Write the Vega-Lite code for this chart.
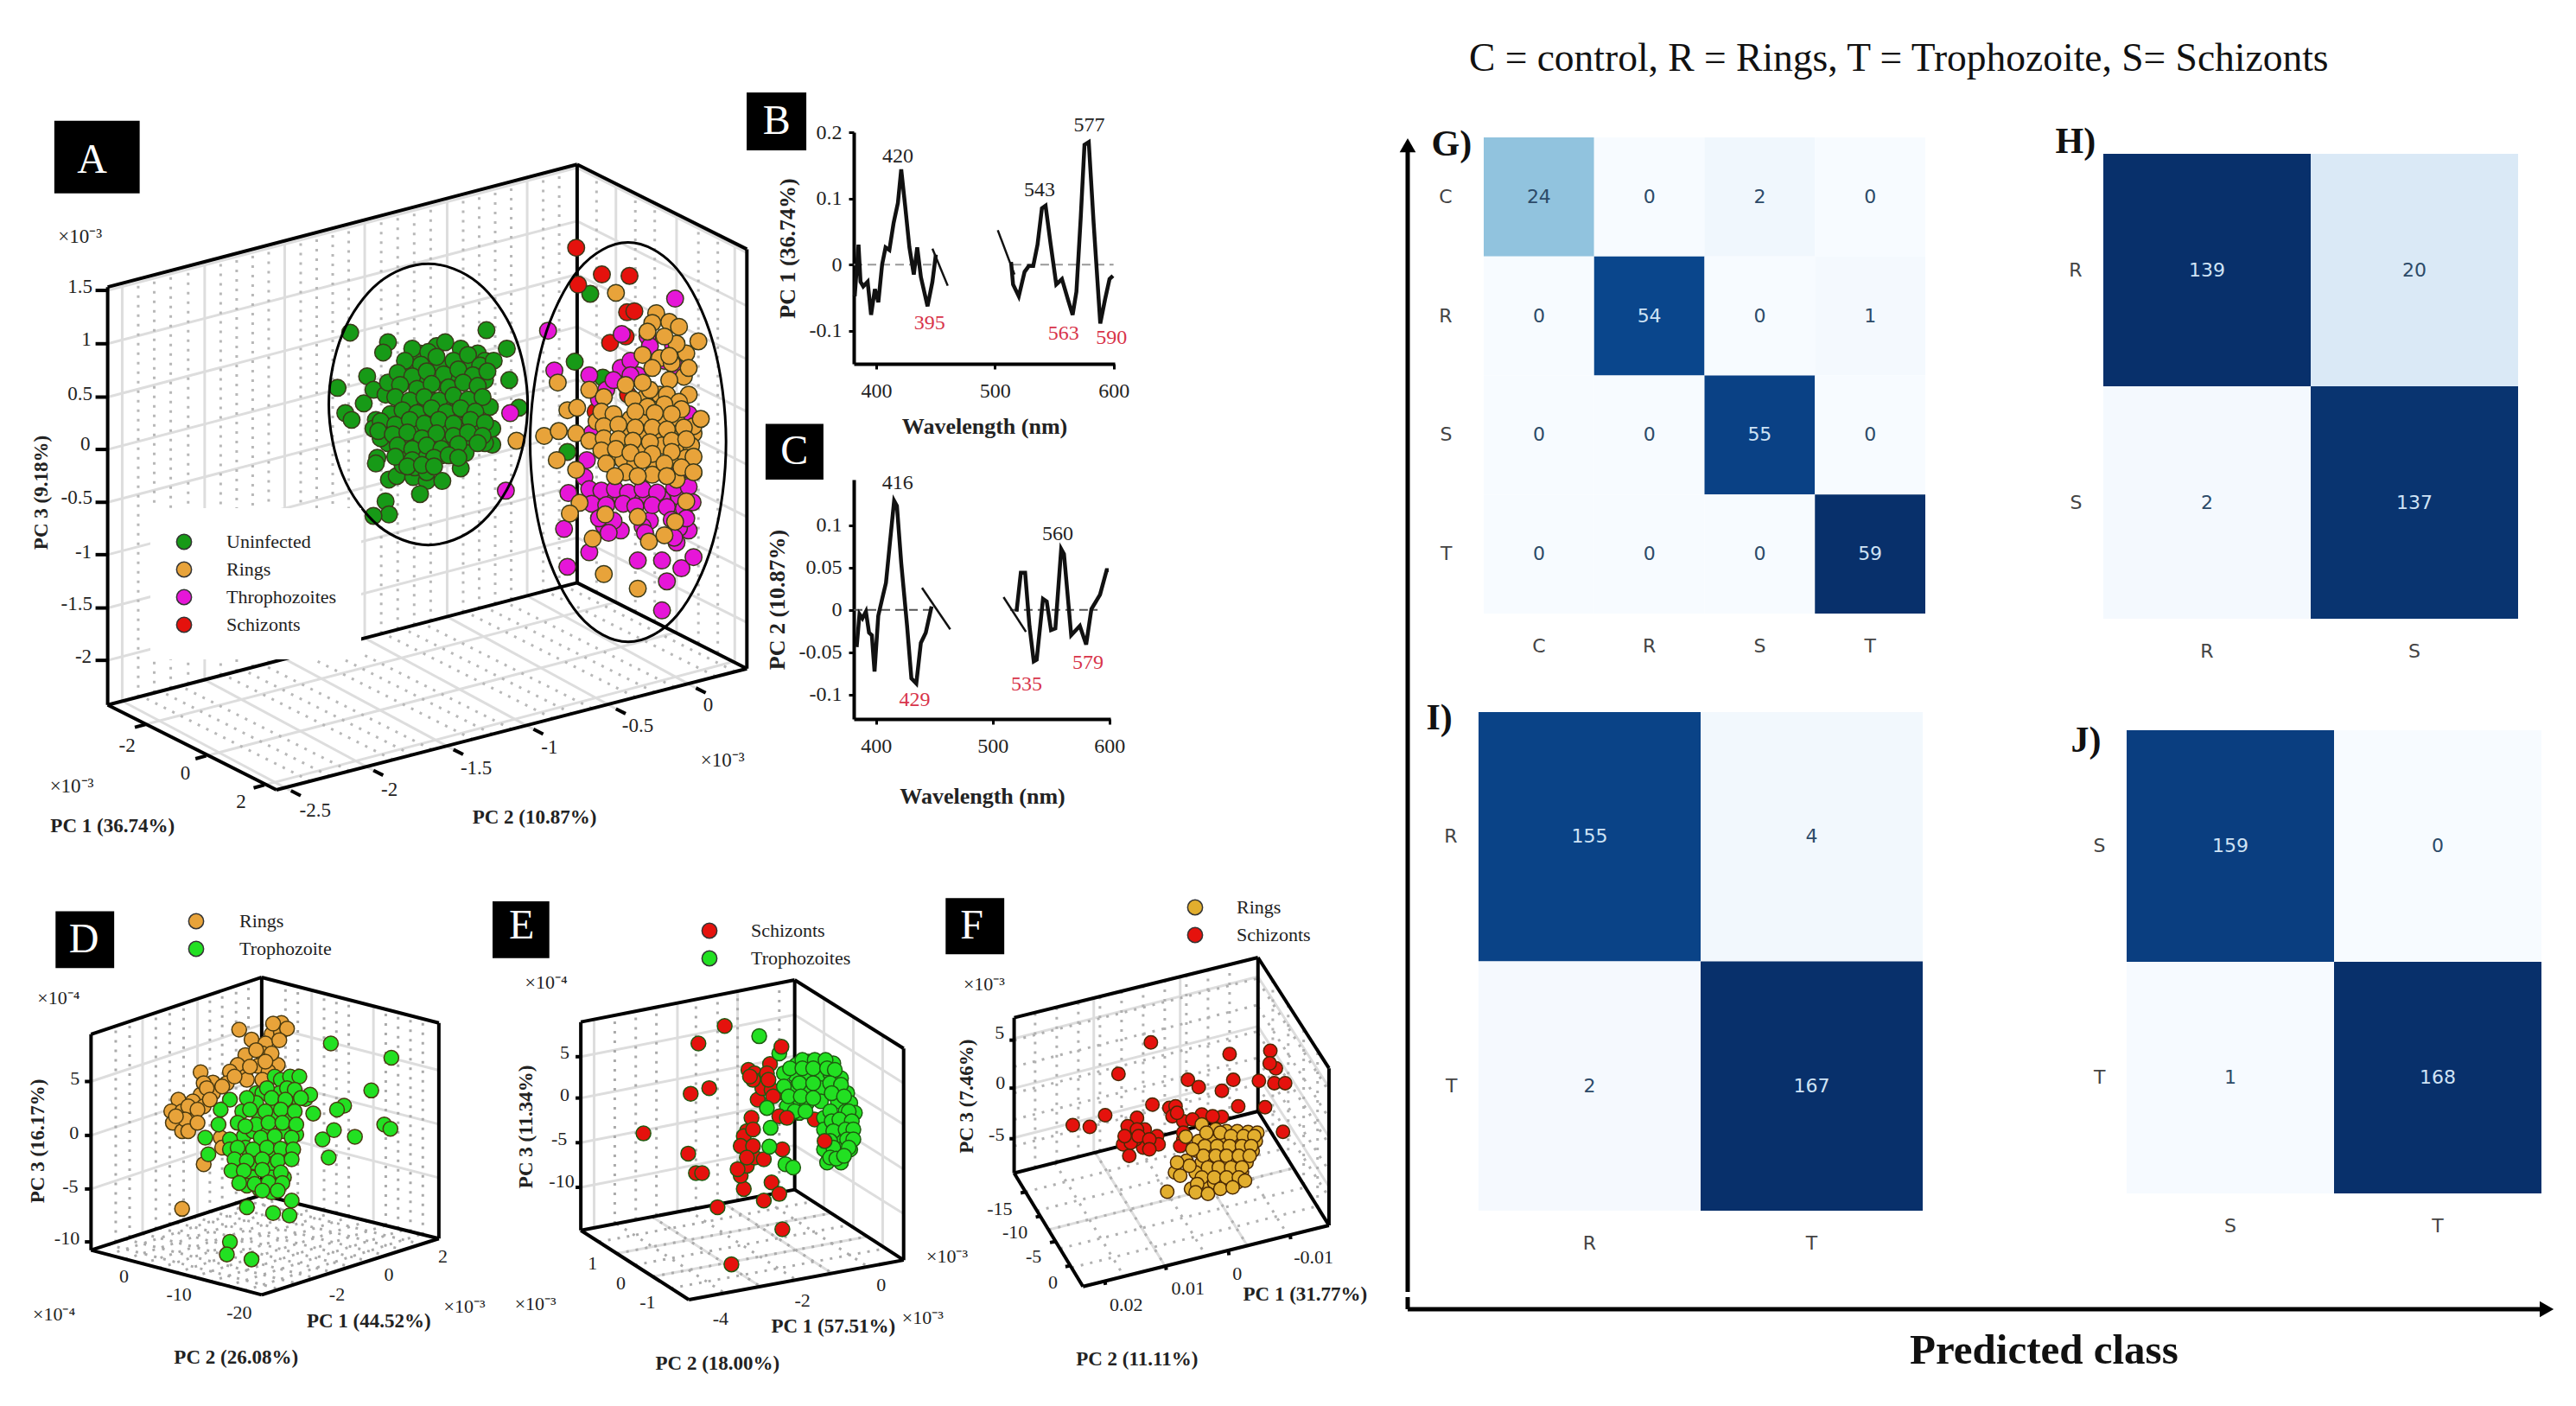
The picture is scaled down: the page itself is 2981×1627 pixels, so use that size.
{"$schema":"https://vega.github.io/schema/vega-lite/v6.json","padding":0,"background":"white","config":{"view":{"stroke":null}},
"datasets":{
"a_s":[
{"k":"g","x":222,"y":385,"u":1190,"v":132},{"k":"g","x":222,"y":495,"u":1190,"v":242},{"k":"g","x":222,"y":605,"u":1190,"v":352},{"k":"g","x":222,"y":713,"u":1190,"v":460},{"k":"g","x":222,"y":822,"u":1190,"v":569},{"k":"g","x":222,"y":930,"u":1190,"v":677},{"k":"g","x":222,"y":1040,"u":1190,"v":787},{"k":"g","x":222,"y":1148,"u":1190,"v":895},
{"k":"g","x":1190,"y":132,"u":1540,"v":307},{"k":"g","x":1190,"y":242,"u":1540,"v":417},{"k":"g","x":1190,"y":352,"u":1540,"v":527},{"k":"g","x":1190,"y":460,"u":1540,"v":635},{"k":"g","x":1190,"y":569,"u":1540,"v":744},{"k":"g","x":1190,"y":677,"u":1540,"v":852},{"k":"g","x":1190,"y":787,"u":1540,"v":962},{"k":"g","x":1190,"y":895,"u":1540,"v":1070},
{"k":"g","x":252,"y":1232,"u":252,"v":370},{"k":"g","x":422,"y":1188,"u":422,"v":326},{"k":"g","x":587,"y":1145,"u":587,"v":283},{"k":"g","x":752,"y":1102,"u":752,"v":240},{"k":"g","x":922,"y":1058,"u":922,"v":196},{"k":"g","x":1087,"y":1015,"u":1087,"v":153},
{"k":"g","x":1270,"y":1028,"u":1270,"v":165},{"k":"g","x":1395,"y":1090,"u":1395,"v":227},{"k":"g","x":1515,"y":1150,"u":1515,"v":287},
{"k":"g","x":600,"y":1417,"u":252,"v":1232},{"k":"g","x":770,"y":1375,"u":422,"v":1188},{"k":"g","x":935,"y":1332,"u":587,"v":1145},{"k":"g","x":1100,"y":1290,"u":752,"v":1102},{"k":"g","x":1270,"y":1248,"u":922,"v":1058},{"k":"g","x":1435,"y":1205,"u":1087,"v":1015},
{"k":"g","x":300,"y":1280,"u":1270,"v":1028},{"k":"g","x":425,"y":1345,"u":1395,"v":1090},{"k":"g","x":545,"y":1405,"u":1515,"v":1150},
{"k":"d","x":285,"y":1224,"u":285,"v":362},{"k":"d","x":318,"y":1215,"u":318,"v":353},{"k":"d","x":352,"y":1206,"u":352,"v":344},{"k":"d","x":388,"y":1197,"u":388,"v":335},{"k":"d","x":455,"y":1179,"u":455,"v":317},{"k":"d","x":488,"y":1171,"u":488,"v":309},{"k":"d","x":521,"y":1162,"u":521,"v":300},{"k":"d","x":554,"y":1154,"u":554,"v":292},{"k":"d","x":620,"y":1136,"u":620,"v":274},{"k":"d","x":653,"y":1128,"u":653,"v":266},{"k":"d","x":686,"y":1119,"u":686,"v":257},{"k":"d","x":719,"y":1111,"u":719,"v":249},{"k":"d","x":786,"y":1093,"u":786,"v":231},{"k":"d","x":820,"y":1084,"u":820,"v":222},{"k":"d","x":854,"y":1075,"u":854,"v":213},{"k":"d","x":888,"y":1067,"u":888,"v":205},{"k":"d","x":955,"y":1049,"u":955,"v":187},{"k":"d","x":988,"y":1041,"u":988,"v":179},{"k":"d","x":1021,"y":1032,"u":1021,"v":170},{"k":"d","x":1054,"y":1023,"u":1054,"v":161},{"k":"d","x":1120,"y":1006,"u":1120,"v":144},{"k":"d","x":1153,"y":998,"u":1153,"v":136},
{"k":"d","x":1230,"y":1008,"u":1230,"v":145},{"k":"d","x":1310,"y":1048,"u":1310,"v":185},{"k":"d","x":1350,"y":1068,"u":1350,"v":205},{"k":"d","x":1440,"y":1113,"u":1440,"v":250},{"k":"d","x":1480,"y":1133,"u":1480,"v":270},
{"k":"d","x":640,"y":1397,"u":292,"v":1222},{"k":"d","x":680,"y":1387,"u":332,"v":1212},{"k":"d","x":720,"y":1376,"u":372,"v":1201},{"k":"d","x":810,"y":1353,"u":462,"v":1178},{"k":"d","x":850,"y":1343,"u":502,"v":1168},{"k":"d","x":890,"y":1332,"u":542,"v":1157},{"k":"d","x":975,"y":1311,"u":627,"v":1136},{"k":"d","x":1015,"y":1300,"u":667,"v":1125},{"k":"d","x":1055,"y":1290,"u":707,"v":1115},{"k":"d","x":1140,"y":1268,"u":792,"v":1093},{"k":"d","x":1180,"y":1258,"u":832,"v":1083},{"k":"d","x":1220,"y":1247,"u":872,"v":1072},{"k":"d","x":1310,"y":1224,"u":962,"v":1049},{"k":"d","x":1350,"y":1214,"u":1002,"v":1039},{"k":"d","x":1390,"y":1203,"u":1042,"v":1028},{"k":"d","x":1475,"y":1181,"u":1127,"v":1006},{"k":"d","x":1515,"y":1171,"u":1167,"v":996},
{"k":"b","x":222,"y":378,"u":1190,"v":125},{"k":"b","x":1190,"y":125,"u":1540,"v":300},{"k":"b","x":1540,"y":300,"u":1540,"v":1165},{"k":"b","x":1540,"y":1165,"u":1190,"v":988},{"k":"b","x":1190,"y":988,"u":222,"v":1240},{"k":"b","x":222,"y":1240,"u":222,"v":378},{"k":"b","x":1190,"y":125,"u":1190,"v":988},{"k":"b","x":222,"y":1240,"u":570,"v":1415},{"k":"b","x":570,"y":1415,"u":1540,"v":1165},
{"k":"b","x":197,"y":385,"u":222,"v":385},{"k":"b","x":197,"y":495,"u":222,"v":495},{"k":"b","x":197,"y":605,"u":222,"v":605},{"k":"b","x":197,"y":713,"u":222,"v":713},{"k":"b","x":197,"y":822,"u":222,"v":822},{"k":"b","x":197,"y":930,"u":222,"v":930},{"k":"b","x":197,"y":1040,"u":222,"v":1040},{"k":"b","x":197,"y":1148,"u":222,"v":1148},
{"k":"b","x":600,"y":1417,"u":620,"v":1427},{"k":"b","x":770,"y":1375,"u":790,"v":1385},{"k":"b","x":935,"y":1332,"u":955,"v":1342},{"k":"b","x":1100,"y":1290,"u":1120,"v":1300},{"k":"b","x":1270,"y":1248,"u":1290,"v":1258},{"k":"b","x":1435,"y":1205,"u":1455,"v":1215},
{"k":"b","x":300,"y":1280,"u":278,"v":1286},{"k":"b","x":425,"y":1345,"u":403,"v":1351},{"k":"b","x":545,"y":1405,"u":523,"v":1411}],
"a_e":[
{"e":"l","i":0,"x":1088,"y":620},{"e":"l","i":1,"x":1060,"y":765},{"e":"l","i":2,"x":985,"y":871},{"e":"l","i":3,"x":883,"y":910},{"e":"l","i":4,"x":781,"y":871},{"e":"l","i":5,"x":706,"y":765},{"e":"l","i":6,"x":678,"y":620},{"e":"l","i":7,"x":706,"y":475},{"e":"l","i":8,"x":781,"y":369},{"e":"l","i":9,"x":883,"y":330},{"e":"l","i":10,"x":985,"y":369},{"e":"l","i":11,"x":1060,"y":475},
{"e":"r","i":0,"x":1497,"y":698},{"e":"r","i":1,"x":1470,"y":904},{"e":"r","i":2,"x":1396,"y":1055},{"e":"r","i":3,"x":1295,"y":1110},{"e":"r","i":4,"x":1194,"y":1055},{"e":"r","i":5,"x":1120,"y":904},{"e":"r","i":6,"x":1093,"y":698},{"e":"r","i":7,"x":1120,"y":492},{"e":"r","i":8,"x":1194,"y":341},{"e":"r","i":9,"x":1295,"y":286},{"e":"r","i":10,"x":1396,"y":341},{"e":"r","i":11,"x":1470,"y":492}],
"a_t":[
{"k":"t","t":"1.5","x":165,"y":378},{"k":"t","t":"1","x":178,"y":487},{"k":"t","t":"0.5","x":165,"y":598},{"k":"t","t":"0","x":176,"y":703},{"k":"t","t":"-0.5","x":158,"y":812},{"k":"t","t":"-1","x":172,"y":925},{"k":"t","t":"-1.5","x":158,"y":1032},{"k":"t","t":"-2","x":172,"y":1140},
{"k":"t","t":"-2","x":262,"y":1325},{"k":"t","t":"0","x":382,"y":1382},{"k":"t","t":"2","x":497,"y":1440},{"k":"t","t":"×10⁻³","x":148,"y":1408},
{"k":"t","t":"-2.5","x":650,"y":1457},{"k":"t","t":"-2","x":803,"y":1415},{"k":"t","t":"-1.5","x":982,"y":1370},{"k":"t","t":"-1","x":1133,"y":1328},{"k":"t","t":"-0.5","x":1315,"y":1283},{"k":"t","t":"0","x":1460,"y":1240},{"k":"t","t":"×10⁻³","x":1490,"y":1355},{"k":"t","t":"×10⁻³","x":165,"y":275},
{"k":"l","t":"PC 1 (36.74%)","x":232,"y":1490},{"k":"l","t":"PC 2 (10.87%)","x":1102,"y":1472},{"k":"r","t":"PC 3 (9.18%)","x":85,"y":802},{"k":"c","t":"A","x":190,"y":118}],
"a_b":[{"x":112,"y":35,"u":288,"v":185}],
"a_p":[
{"x":1217,"y":392,"g":"U"},{"x":1185,"y":532,"g":"U"},{"x":1243,"y":565,"g":"U"},{"x":1170,"y":718,"g":"U"},{"x":722,"y":472,"g":"U"},{"x":800,"y":492,"g":"U"},{"x":790,"y":513,"g":"U"},{"x":1003,"y":467,"g":"U"},{"x":1045,"y":505,"g":"U"},{"x":1050,"y":570,"g":"U"},{"x":696,"y":586,"g":"U"},{"x":757,"y":562,"g":"U"},{"x":770,"y":590,"g":"U"},{"x":712,"y":638,"g":"U"},{"x":725,"y":652,"g":"U"},{"x":750,"y":618,"g":"U"},{"x":775,"y":652,"g":"U"},{"x":795,"y":600,"g":"U"},{"x":778,"y":730,"g":"U"},{"x":775,"y":742,"g":"U"},{"x":802,"y":775,"g":"U"},{"x":818,"y":768,"g":"U"},{"x":852,"y":770,"g":"U"},{"x":880,"y":778,"g":"U"},{"x":912,"y":778,"g":"U"},{"x":866,"y":805,"g":"U"},{"x":795,"y":820,"g":"U"},{"x":802,"y":847,"g":"U"},{"x":770,"y":850,"g":"U"},{"x":950,"y":752,"g":"U"},{"x":1015,"y":703,"g":"U"},{"x":1070,"y":627,"g":"U"},
{"x":865,"y":515,"g":"U"},{"x":900,"y":500,"g":"U"},{"x":950,"y":505,"g":"U"},{"x":985,"y":515,"g":"U"},{"x":845,"y":545,"g":"U"},{"x":905,"y":540,"g":"U"},{"x":960,"y":535,"g":"U"},{"x":1000,"y":530,"g":"U"},{"x":835,"y":570,"g":"U"},{"x":875,"y":568,"g":"U"},{"x":910,"y":575,"g":"U"},{"x":940,"y":568,"g":"U"},{"x":1000,"y":570,"g":"U"},{"x":800,"y":575,"g":"U"},{"x":830,"y":620,"g":"U"},{"x":860,"y":622,"g":"U"},{"x":890,"y":612,"g":"U"},{"x":920,"y":612,"g":"U"},{"x":950,"y":615,"g":"U"},{"x":985,"y":620,"g":"U"},{"x":1010,"y":625,"g":"U"},{"x":805,"y":640,"g":"U"},{"x":845,"y":635,"g":"U"},{"x":875,"y":635,"g":"U"},{"x":905,"y":635,"g":"U"},{"x":935,"y":640,"g":"U"},{"x":965,"y":635,"g":"U"},{"x":795,"y":665,"g":"U"},{"x":825,"y":672,"g":"U"},{"x":855,"y":670,"g":"U"},{"x":885,"y":672,"g":"U"},{"x":918,"y":668,"g":"U"},{"x":950,"y":668,"g":"U"},{"x":985,"y":665,"g":"U"},{"x":1015,"y":670,"g":"U"},{"x":800,"y":700,"g":"U"},{"x":835,"y":695,"g":"U"},{"x":865,"y":705,"g":"U"},{"x":895,"y":695,"g":"U"},{"x":925,"y":695,"g":"U"},{"x":960,"y":700,"g":"U"},{"x":1000,"y":700,"g":"U"},{"x":830,"y":720,"g":"U"},{"x":865,"y":722,"g":"U"},{"x":910,"y":725,"g":"U"},{"x":960,"y":720,"g":"U"},{"x":855,"y":750,"g":"U"},{"x":880,"y":760,"g":"U"},{"x":830,"y":745,"g":"U"},{"x":785,"y":690,"g":"U"},{"x":770,"y":670,"g":"U"},
{"x":850,"y":505,"g":"U"},{"x":883,"y":512,"g":"U"},{"x":918,"y":492,"g":"U"},{"x":835,"y":530,"g":"U"},{"x":868,"y":538,"g":"U"},{"x":900,"y":522,"g":"U"},{"x":935,"y":530,"g":"U"},{"x":965,"y":518,"g":"U"},{"x":990,"y":540,"g":"U"},{"x":1018,"y":530,"g":"U"},{"x":820,"y":555,"g":"U"},{"x":850,"y":562,"g":"U"},{"x":880,"y":552,"g":"U"},{"x":915,"y":558,"g":"U"},{"x":945,"y":548,"g":"U"},{"x":975,"y":560,"g":"U"},{"x":1005,"y":552,"g":"U"},{"x":825,"y":580,"g":"U"},{"x":860,"y":588,"g":"U"},{"x":890,"y":578,"g":"U"},{"x":925,"y":585,"g":"U"},{"x":955,"y":575,"g":"U"},{"x":985,"y":582,"g":"U"},{"x":815,"y":605,"g":"U"},{"x":845,"y":612,"g":"U"},{"x":875,"y":605,"g":"U"},{"x":905,"y":612,"g":"U"},{"x":935,"y":602,"g":"U"},{"x":965,"y":610,"g":"U"},{"x":995,"y":605,"g":"U"},{"x":830,"y":632,"g":"U"},{"x":860,"y":638,"g":"U"},{"x":890,"y":628,"g":"U"},{"x":920,"y":636,"g":"U"},{"x":950,"y":628,"g":"U"},{"x":980,"y":635,"g":"U"},{"x":785,"y":655,"g":"U"},{"x":815,"y":662,"g":"U"},{"x":845,"y":652,"g":"U"},{"x":875,"y":660,"g":"U"},{"x":905,"y":652,"g":"U"},{"x":935,"y":660,"g":"U"},{"x":970,"y":652,"g":"U"},{"x":1000,"y":658,"g":"U"},{"x":780,"y":675,"g":"U"},{"x":810,"y":682,"g":"U"},{"x":840,"y":678,"g":"U"},{"x":870,"y":690,"g":"U"},{"x":900,"y":680,"g":"U"},{"x":935,"y":685,"g":"U"},{"x":965,"y":678,"g":"U"},{"x":995,"y":685,"g":"U"},{"x":820,"y":705,"g":"U"},{"x":850,"y":712,"g":"U"},{"x":880,"y":705,"g":"U"},{"x":910,"y":712,"g":"U"},{"x":945,"y":702,"g":"U"},{"x":985,"y":700,"g":"U"},{"x":815,"y":728,"g":"U"},{"x":850,"y":735,"g":"U"},{"x":895,"y":730,"g":"U"},{"x":925,"y":725,"g":"U"},{"x":945,"y":730,"g":"U"},{"x":840,"y":748,"g":"U"},{"x":870,"y":745,"g":"U"},{"x":895,"y":748,"g":"U"},
{"x":1188,"y":297,"g":"S"},{"x":1192,"y":373,"g":"S"},{"x":1241,"y":352,"g":"S"},{"x":1298,"y":355,"g":"S"},{"x":1293,"y":430,"g":"S"},{"x":1308,"y":428,"g":"S"},{"x":1258,"y":493,"g":"S"},{"x":1290,"y":480,"g":"S"},{"x":1228,"y":635,"g":"S"},{"x":1295,"y":600,"g":"S"},
{"x":1392,"y":402,"g":"T"},{"x":1130,"y":468,"g":"T"},{"x":1143,"y":550,"g":"T"},{"x":1052,"y":638,"g":"T"},{"x":1043,"y":798,"g":"T"},{"x":1282,"y":475,"g":"T"},{"x":1335,"y":480,"g":"T"},{"x":1388,"y":500,"g":"T"},{"x":1280,"y":545,"g":"T"},{"x":1315,"y":560,"g":"T"},{"x":1390,"y":540,"g":"T"},{"x":1215,"y":560,"g":"T"},{"x":1250,"y":590,"g":"T"},{"x":1420,"y":640,"g":"T"},{"x":1425,"y":680,"g":"T"},{"x":1210,"y":735,"g":"T"},{"x":1172,"y":803,"g":"T"},{"x":1163,"y":877,"g":"T"},{"x":1170,"y":955,"g":"T"},{"x":1215,"y":925,"g":"T"},{"x":1315,"y":942,"g":"T"},{"x":1365,"y":942,"g":"T"},{"x":1375,"y":985,"g":"T"},{"x":1365,"y":1045,"g":"T"},{"x":1405,"y":958,"g":"T"},{"x":1430,"y":935,"g":"T"},{"x":1420,"y":880,"g":"T"},{"x":1395,"y":905,"g":"T"},{"x":1420,"y":700,"g":"T"},{"x":1290,"y":735,"g":"T"},{"x":1220,"y":680,"g":"T"},{"x":1430,"y":760,"g":"T"},
{"x":1230,"y":810,"g":"T"},{"x":1255,"y":810,"g":"T"},{"x":1280,"y":810,"g":"T"},{"x":1305,"y":815,"g":"T"},{"x":1335,"y":810,"g":"T"},{"x":1365,"y":815,"g":"T"},{"x":1400,"y":810,"g":"T"},{"x":1245,"y":870,"g":"T"},{"x":1280,"y":880,"g":"T"},{"x":1340,"y":860,"g":"T"},{"x":1400,"y":875,"g":"T"},{"x":1300,"y":530,"g":"T"},{"x":1340,"y":500,"g":"T"},{"x":1265,"y":570,"g":"T"},{"x":1235,"y":610,"g":"T"},{"x":1300,"y":560,"g":"T"},{"x":1400,"y":760,"g":"T"},{"x":1205,"y":770,"g":"T"},{"x":1370,"y":530,"g":"T"},
{"x":1215,"y":795,"g":"T"},{"x":1240,"y":798,"g":"T"},{"x":1268,"y":795,"g":"T"},{"x":1295,"y":802,"g":"T"},{"x":1325,"y":795,"g":"T"},{"x":1355,"y":802,"g":"T"},{"x":1390,"y":792,"g":"T"},{"x":1420,"y":790,"g":"T"},{"x":1220,"y":825,"g":"T"},{"x":1250,"y":828,"g":"T"},{"x":1285,"y":825,"g":"T"},{"x":1310,"y":830,"g":"T"},{"x":1345,"y":828,"g":"T"},{"x":1375,"y":832,"g":"T"},{"x":1410,"y":835,"g":"T"},{"x":1428,"y":822,"g":"T"},{"x":1235,"y":855,"g":"T"},{"x":1265,"y":860,"g":"T"},{"x":1325,"y":872,"g":"T"},{"x":1385,"y":858,"g":"T"},{"x":1415,"y":855,"g":"T"},{"x":1255,"y":885,"g":"T"},{"x":1330,"y":885,"g":"T"},{"x":1390,"y":895,"g":"T"},
{"x":1270,"y":390,"g":"R"},{"x":1150,"y":575,"g":"R"},{"x":1065,"y":695,"g":"R"},{"x":1122,"y":685,"g":"R"},{"x":1152,"y":675,"g":"R"},{"x":1188,"y":680,"g":"R"},{"x":1170,"y":632,"g":"R"},{"x":1190,"y":627,"g":"R"},{"x":1148,"y":735,"g":"R"},{"x":1188,"y":755,"g":"R"},{"x":1195,"y":823,"g":"R"},{"x":1175,"y":845,"g":"R"},{"x":1222,"y":897,"g":"R"},{"x":1245,"y":970,"g":"R"},{"x":1315,"y":1000,"g":"R"},{"x":1338,"y":903,"g":"R"},{"x":1370,"y":890,"g":"R"},{"x":1392,"y":862,"g":"R"},{"x":1315,"y":852,"g":"R"},{"x":1248,"y":847,"g":"R"},{"x":1415,"y":820,"g":"R"},{"x":1440,"y":490,"g":"R"},{"x":1353,"y":432,"g":"R"},{"x":1345,"y":452,"g":"R"},{"x":1380,"y":450,"g":"R"},{"x":1400,"y":460,"g":"R"},{"x":1415,"y":515,"g":"R"},{"x":1360,"y":525,"g":"R"},{"x":1325,"y":518,"g":"R"},{"x":1410,"y":563,"g":"R"},{"x":1380,"y":570,"g":"R"},{"x":1290,"y":580,"g":"R"},{"x":1215,"y":590,"g":"R"},{"x":1245,"y":605,"g":"R"},{"x":1330,"y":607,"g":"R"},{"x":1360,"y":600,"g":"R"},{"x":1420,"y":600,"g":"R"},
{"x":1300,"y":650,"g":"R"},{"x":1330,"y":650,"g":"R"},{"x":1365,"y":650,"g":"R"},{"x":1395,"y":655,"g":"R"},{"x":1260,"y":650,"g":"R"},{"x":1230,"y":655,"g":"R"},{"x":1290,"y":680,"g":"R"},{"x":1325,"y":680,"g":"R"},{"x":1360,"y":685,"g":"R"},{"x":1400,"y":680,"g":"R"},{"x":1430,"y":680,"g":"R"},{"x":1260,"y":700,"g":"R"},{"x":1285,"y":705,"g":"R"},{"x":1320,"y":708,"g":"R"},{"x":1365,"y":705,"g":"R"},{"x":1405,"y":708,"g":"R"},{"x":1425,"y":705,"g":"R"},{"x":1260,"y":730,"g":"R"},{"x":1285,"y":735,"g":"R"},{"x":1310,"y":740,"g":"R"},{"x":1350,"y":745,"g":"R"},{"x":1390,"y":735,"g":"R"},{"x":1415,"y":730,"g":"R"},{"x":1290,"y":760,"g":"R"},{"x":1345,"y":765,"g":"R"},{"x":1395,"y":775,"g":"R"},{"x":1340,"y":590,"g":"R"},{"x":1375,"y":600,"g":"R"},{"x":1400,"y":615,"g":"R"},{"x":1305,"y":610,"g":"R"},{"x":1335,"y":625,"g":"R"},{"x":1370,"y":620,"g":"R"},{"x":1405,"y":630,"g":"R"},{"x":1345,"y":545,"g":"R"},{"x":1385,"y":535,"g":"R"},{"x":1395,"y":495,"g":"R"},{"x":1370,"y":480,"g":"R"},{"x":1335,"y":470,"g":"R"},{"x":1420,"y":545,"g":"R"},{"x":1325,"y":575,"g":"R"},{"x":1380,"y":520,"g":"R"},{"x":1430,"y":665,"g":"R"},
{"x":1240,"y":635,"g":"R"},{"x":1265,"y":640,"g":"R"},{"x":1310,"y":635,"g":"R"},{"x":1350,"y":638,"g":"R"},{"x":1385,"y":640,"g":"R"},{"x":1245,"y":665,"g":"R"},{"x":1275,"y":662,"g":"R"},{"x":1310,"y":668,"g":"R"},{"x":1345,"y":668,"g":"R"},{"x":1375,"y":672,"g":"R"},{"x":1410,"y":668,"g":"R"},{"x":1445,"y":650,"g":"R"},{"x":1215,"y":695,"g":"R"},{"x":1245,"y":690,"g":"R"},{"x":1275,"y":692,"g":"R"},{"x":1305,"y":695,"g":"R"},{"x":1340,"y":698,"g":"R"},{"x":1385,"y":695,"g":"R"},{"x":1415,"y":692,"g":"R"},{"x":1240,"y":715,"g":"R"},{"x":1270,"y":712,"g":"R"},{"x":1300,"y":720,"g":"R"},{"x":1345,"y":722,"g":"R"},{"x":1385,"y":718,"g":"R"},{"x":1430,"y":728,"g":"R"},{"x":1250,"y":742,"g":"R"},{"x":1325,"y":735,"g":"R"},{"x":1370,"y":742,"g":"R"},{"x":1405,"y":750,"g":"R"},{"x":1268,"y":768,"g":"R"},{"x":1315,"y":768,"g":"R"},{"x":1375,"y":768,"g":"R"},{"x":1430,"y":760,"g":"R"}],
"d_s":[
{"k":"g","x":295,"y":605,"u":848,"v":433},{"k":"g","x":295,"y":768,"u":848,"v":596},{"k":"g","x":295,"y":930,"u":848,"v":758},{"k":"g","x":848,"y":433,"u":1422,"v":571},{"k":"g","x":848,"y":596,"u":1422,"v":734},{"k":"g","x":848,"y":758,"u":1422,"v":896},{"k":"g","x":462,"y":1065,"u":462,"v":412},{"k":"g","x":640,"y":1011,"u":640,"v":358},{"k":"g","x":1010,"y":985,"u":1010,"v":330},{"k":"g","x":1210,"y":1031,"u":1210,"v":376},
{"k":"d","x":375,"y":1091,"u":375,"v":438},{"k":"d","x":420,"y":1077,"u":420,"v":424},{"k":"d","x":505,"y":1052,"u":505,"v":399},{"k":"d","x":550,"y":1038,"u":550,"v":385},{"k":"d","x":595,"y":1024,"u":595,"v":371},{"k":"d","x":680,"y":1000,"u":680,"v":347},{"k":"d","x":720,"y":987,"u":720,"v":334},{"k":"d","x":765,"y":974,"u":765,"v":321},{"k":"d","x":805,"y":962,"u":805,"v":309},{"k":"d","x":925,"y":966,"u":925,"v":311},{"k":"d","x":965,"y":975,"u":965,"v":320},{"k":"d","x":1050,"y":994,"u":1050,"v":339},{"k":"d","x":1090,"y":1004,"u":1090,"v":349},{"k":"d","x":1130,"y":1013,"u":1130,"v":358},{"k":"d","x":1250,"y":1040,"u":1250,"v":385},{"k":"d","x":1290,"y":1050,"u":1290,"v":395},{"k":"d","x":1330,"y":1059,"u":1330,"v":404},{"k":"d","x":1370,"y":1068,"u":1370,"v":413},
{"k":"d","x":350,"y":1129,"u":905,"v":961},{"k":"d","x":406,"y":1142,"u":963,"v":974},{"k":"d","x":461,"y":1156,"u":1020,"v":988},{"k":"d","x":516,"y":1169,"u":1078,"v":1001},{"k":"d","x":572,"y":1183,"u":1135,"v":1014},{"k":"d","x":627,"y":1196,"u":1192,"v":1027},{"k":"d","x":682,"y":1210,"u":1250,"v":1040},{"k":"d","x":737,"y":1223,"u":1307,"v":1054},{"k":"d","x":793,"y":1237,"u":1365,"v":1067},
{"k":"d","x":350,"y":1098,"u":905,"v":1233},{"k":"d","x":406,"y":1082,"u":963,"v":1216},{"k":"d","x":461,"y":1065,"u":1020,"v":1199},{"k":"d","x":516,"y":1048,"u":1078,"v":1182},{"k":"d","x":572,"y":1032,"u":1135,"v":1165},{"k":"d","x":627,"y":1015,"u":1192,"v":1148},{"k":"d","x":682,"y":998,"u":1250,"v":1131},{"k":"d","x":737,"y":981,"u":1307,"v":1114},{"k":"d","x":793,"y":965,"u":1365,"v":1097},
{"k":"b","x":295,"y":462,"u":848,"v":290},{"k":"b","x":848,"y":290,"u":1422,"v":428},{"k":"b","x":1422,"y":428,"u":1422,"v":1080},{"k":"b","x":1422,"y":1080,"u":848,"v":1250},{"k":"b","x":848,"y":1250,"u":295,"v":1115},{"k":"b","x":295,"y":1115,"u":295,"v":462},{"k":"b","x":848,"y":290,"u":848,"v":948},{"k":"b","x":295,"y":1115,"u":848,"v":948},{"k":"b","x":848,"y":948,"u":1422,"v":1080},{"k":"b","x":275,"y":605,"u":295,"v":605},{"k":"b","x":275,"y":768,"u":295,"v":768},{"k":"b","x":275,"y":930,"u":295,"v":930},{"k":"b","x":275,"y":1090,"u":295,"v":1090}],
"d_t":[{"k":"t","t":"5","x":243,"y":597},{"k":"t","t":"0","x":240,"y":760},{"k":"t","t":"-5","x":228,"y":922},{"k":"t","t":"-10","x":217,"y":1080},{"k":"t","t":"×10⁻⁴","x":190,"y":352},{"k":"r","t":"PC 3 (16.17%)","x":122,"y":785},{"k":"t","t":"0","x":402,"y":1195},{"k":"t","t":"-10","x":580,"y":1250},{"k":"t","t":"-20","x":775,"y":1303},{"k":"t","t":"×10⁻⁴","x":175,"y":1310},{"k":"l","t":"PC 2 (26.08%)","x":765,"y":1440},{"k":"t","t":"2","x":1435,"y":1135},{"k":"t","t":"0","x":1260,"y":1188},{"k":"t","t":"-2","x":1092,"y":1250},{"k":"l","t":"PC 1 (44.52%)","x":1195,"y":1330},{"k":"t","t":"×10⁻³","x":1505,"y":1285},{"k":"c","t":"D","x":272,"y":178}],
"d_b":[{"x":180,"y":90,"u":370,"v":262}],
"d_p":[
{"x":912,"y":428,"g":"R"},{"x":775,"y":448,"g":"R"},{"x":880,"y":462,"g":"R"},{"x":815,"y":478,"g":"R"},{"x":910,"y":455,"g":"R"},{"x":860,"y":490,"g":"R"},{"x":795,"y":525,"g":"R"},{"x":850,"y":520,"g":"R"},{"x":900,"y":555,"g":"R"},{"x":770,"y":555,"g":"R"},{"x":835,"y":558,"g":"R"},{"x":745,"y":575,"g":"R"},{"x":870,"y":575,"g":"R"},{"x":650,"y":577,"g":"R"},{"x":795,"y":590,"g":"R"},{"x":735,"y":610,"g":"R"},{"x":690,"y":608,"g":"R"},{"x":650,"y":645,"g":"R"},{"x":660,"y":610,"g":"R"},{"x":690,"y":640,"g":"R"},{"x":578,"y":660,"g":"R"},{"x":625,"y":665,"g":"R"},{"x":660,"y":680,"g":"R"},{"x":555,"y":695,"g":"R"},{"x":590,"y":695,"g":"R"},{"x":630,"y":705,"g":"R"},{"x":585,"y":725,"g":"R"},{"x":620,"y":735,"g":"R"},{"x":560,"y":730,"g":"R"},{"x":590,"y":755,"g":"R"},{"x":660,"y":855,"g":"R"},{"x":715,"y":775,"g":"R"},{"x":720,"y":805,"g":"R"},{"x":590,"y":990,"g":"R"},{"x":800,"y":600,"g":"R"},{"x":850,"y":600,"g":"R"},
{"x":830,"y":510,"g":"R"},{"x":880,"y":520,"g":"R"},{"x":810,"y":560,"g":"R"},{"x":760,"y":590,"g":"R"},{"x":720,"y":620,"g":"R"},{"x":670,"y":625,"g":"R"},{"x":610,"y":680,"g":"R"},{"x":640,"y":690,"g":"R"},{"x":600,"y":720,"g":"R"},{"x":570,"y":710,"g":"R"},{"x":610,"y":755,"g":"R"},{"x":640,"y":730,"g":"R"},{"x":680,"y":660,"g":"R"},{"x":885,"y":430,"g":"R"},{"x":930,"y":445,"g":"R"},{"x":905,"y":480,"g":"R"},{"x":860,"y":545,"g":"R"},
{"x":1072,"y":490,"g":"T"},{"x":1268,"y":533,"g":"T"},{"x":1203,"y":632,"g":"T"},{"x":1115,"y":678,"g":"T"},{"x":1092,"y":690,"g":"T"},{"x":1245,"y":735,"g":"T"},{"x":1265,"y":748,"g":"T"},{"x":1082,"y":752,"g":"T"},{"x":1045,"y":780,"g":"T"},{"x":1150,"y":772,"g":"T"},{"x":1065,"y":835,"g":"T"},{"x":1015,"y":702,"g":"T"},{"x":990,"y":658,"g":"T"},{"x":1005,"y":645,"g":"T"},{"x":745,"y":660,"g":"T"},{"x":715,"y":690,"g":"T"},{"x":708,"y":735,"g":"T"},{"x":665,"y":775,"g":"T"},{"x":675,"y":825,"g":"T"},{"x":800,"y":985,"g":"T"},{"x":945,"y":965,"g":"T"},{"x":885,"y":1003,"g":"T"},{"x":938,"y":1010,"g":"T"},{"x":745,"y":1090,"g":"T"},{"x":735,"y":1128,"g":"T"},{"x":815,"y":1143,"g":"T"},
{"x":890,"y":590,"g":"T"},{"x":910,"y":600,"g":"T"},{"x":830,"y":640,"g":"T"},{"x":850,"y":640,"g":"T"},{"x":905,"y":640,"g":"T"},{"x":950,"y":660,"g":"T"},{"x":830,"y":670,"g":"T"},{"x":890,"y":680,"g":"T"},{"x":935,"y":690,"g":"T"},{"x":785,"y":695,"g":"T"},{"x":840,"y":710,"g":"T"},{"x":890,"y":710,"g":"T"},{"x":935,"y":715,"g":"T"},{"x":790,"y":770,"g":"T"},{"x":820,"y":755,"g":"T"},{"x":865,"y":755,"g":"T"},{"x":915,"y":755,"g":"T"},{"x":960,"y":765,"g":"T"},{"x":745,"y":780,"g":"T"},{"x":745,"y":810,"g":"T"},{"x":795,"y":805,"g":"T"},{"x":845,"y":805,"g":"T"},{"x":885,"y":830,"g":"T"},{"x":925,"y":825,"g":"T"},{"x":825,"y":850,"g":"T"},{"x":875,"y":855,"g":"T"},{"x":770,"y":880,"g":"T"},{"x":815,"y":895,"g":"T"},{"x":880,"y":895,"g":"T"},{"x":920,"y":895,"g":"T"},{"x":800,"y":920,"g":"T"},{"x":895,"y":920,"g":"T"},{"x":840,"y":930,"g":"T"},{"x":880,"y":940,"g":"T"},
{"x":940,"y":590,"g":"T"},{"x":970,"y":590,"g":"T"},{"x":865,"y":625,"g":"T"},{"x":930,"y":625,"g":"T"},{"x":955,"y":630,"g":"T"},{"x":800,"y":655,"g":"T"},{"x":880,"y":655,"g":"T"},{"x":925,"y":660,"g":"T"},{"x":975,"y":655,"g":"T"},{"x":810,"y":690,"g":"T"},{"x":860,"y":695,"g":"T"},{"x":910,"y":690,"g":"T"},{"x":955,"y":695,"g":"T"},{"x":770,"y":730,"g":"T"},{"x":830,"y":735,"g":"T"},{"x":870,"y":730,"g":"T"},{"x":915,"y":730,"g":"T"},{"x":960,"y":735,"g":"T"},{"x":795,"y":740,"g":"T"},{"x":845,"y":775,"g":"T"},{"x":890,"y":770,"g":"T"},{"x":945,"y":775,"g":"T"},{"x":770,"y":805,"g":"T"},{"x":820,"y":810,"g":"T"},{"x":865,"y":805,"g":"T"},{"x":910,"y":808,"g":"T"},{"x":950,"y":810,"g":"T"},{"x":760,"y":840,"g":"T"},{"x":800,"y":845,"g":"T"},{"x":850,"y":840,"g":"T"},{"x":900,"y":845,"g":"T"},{"x":945,"y":840,"g":"T"},{"x":750,"y":875,"g":"T"},{"x":790,"y":875,"g":"T"},{"x":850,"y":872,"g":"T"},{"x":910,"y":880,"g":"T"},{"x":775,"y":912,"g":"T"},{"x":825,"y":915,"g":"T"},{"x":870,"y":910,"g":"T"},{"x":915,"y":912,"g":"T"},{"x":850,"y":935,"g":"T"},{"x":900,"y":935,"g":"T"}],
"e_s":[
{"k":"g","x":342,"y":530,"u":1035,"v":403},{"k":"g","x":342,"y":655,"u":1035,"v":528},{"k":"g","x":342,"y":790,"u":1035,"v":663},{"k":"g","x":342,"y":925,"u":1035,"v":798},{"k":"g","x":1035,"y":403,"u":1388,"v":610},{"k":"g","x":1035,"y":528,"u":1388,"v":735},{"k":"g","x":1035,"y":663,"u":1388,"v":870},{"k":"g","x":1035,"y":798,"u":1388,"v":1005},{"k":"g","x":385,"y":1047,"u":385,"v":417},{"k":"g","x":655,"y":999,"u":655,"v":369},{"k":"g","x":850,"y":965,"u":850,"v":335},{"k":"g","x":1130,"y":989,"u":1130,"v":355},{"k":"g","x":1225,"y":1047,"u":1225,"v":413},{"k":"g","x":1320,"y":1104,"u":1320,"v":470},{"k":"g","x":459,"y":1125,"u":1153,"v":1003},{"k":"g","x":575,"y":1195,"u":1270,"v":1074},{"k":"g","x":573,"y":1014,"u":924,"v":1225},{"k":"g","x":804,"y":973,"u":1156,"v":1185},
{"k":"d","x":452,"y":1035,"u":452,"v":405},{"k":"d","x":520,"y":1023,"u":520,"v":393},{"k":"d","x":587,"y":1011,"u":587,"v":381},{"k":"d","x":715,"y":989,"u":715,"v":359},{"k":"d","x":785,"y":976,"u":785,"v":346},{"k":"d","x":850,"y":965,"u":850,"v":335},{"k":"d","x":985,"y":941,"u":985,"v":311},
{"k":"d","x":400,"y":1090,"u":1094,"v":968},{"k":"d","x":459,"y":1125,"u":1153,"v":1003},{"k":"d","x":517,"y":1160,"u":1212,"v":1039},{"k":"d","x":575,"y":1195,"u":1270,"v":1074},{"k":"d","x":634,"y":1230,"u":1329,"v":1110},{"k":"d","x":458,"y":1035,"u":808,"v":1245},{"k":"d","x":573,"y":1014,"u":924,"v":1225},{"k":"d","x":689,"y":994,"u":1040,"v":1205},{"k":"d","x":804,"y":973,"u":1156,"v":1185},{"k":"d","x":920,"y":953,"u":1272,"v":1165},
{"k":"b","x":342,"y":425,"u":1035,"v":298},{"k":"b","x":1035,"y":298,"u":1388,"v":505},{"k":"b","x":1388,"y":505,"u":1388,"v":1145},{"k":"b","x":1388,"y":1145,"u":692,"v":1265},{"k":"b","x":692,"y":1265,"u":342,"v":1055},{"k":"b","x":342,"y":1055,"u":342,"v":425},{"k":"b","x":1035,"y":298,"u":1035,"v":932},{"k":"b","x":342,"y":1055,"u":1035,"v":932},{"k":"b","x":1035,"y":932,"u":1388,"v":1145},{"k":"b","x":325,"y":530,"u":342,"v":530},{"k":"b","x":325,"y":655,"u":342,"v":655},{"k":"b","x":325,"y":790,"u":342,"v":790},{"k":"b","x":325,"y":925,"u":342,"v":925}],
"e_t":[{"k":"t","t":"5","x":290,"y":517},{"k":"t","t":"0","x":290,"y":645},{"k":"t","t":"-5","x":272,"y":780},{"k":"t","t":"-10","x":280,"y":908},{"k":"t","t":"×10⁻⁴","x":230,"y":305},{"k":"r","t":"PC 3 (11.34%)","x":165,"y":742},{"k":"t","t":"1","x":380,"y":1155},{"k":"t","t":"0","x":472,"y":1215},{"k":"t","t":"-1","x":558,"y":1272},{"k":"t","t":"×10⁻³","x":195,"y":1278},{"k":"t","t":"-4","x":795,"y":1322},{"k":"t","t":"-2","x":1060,"y":1268},{"k":"t","t":"0","x":1315,"y":1220},{"k":"l","t":"PC 1 (57.51%)","x":1160,"y":1345},{"k":"t","t":"×10⁻³","x":1450,"y":1320},{"k":"l","t":"PC 2 (18.00%)","x":785,"y":1458},{"k":"c","t":"E","x":150,"y":135}],
"e_b":[{"x":56,"y":60,"u":240,"v":232}],
"e_p":[
{"x":808,"y":437,"g":"S"},{"x":723,"y":490,"g":"S"},{"x":758,"y":625,"g":"S"},{"x":698,"y":642,"g":"S"},{"x":545,"y":762,"g":"S"},{"x":690,"y":823,"g":"S"},{"x":715,"y":882,"g":"S"},{"x":735,"y":882,"g":"S"},{"x":785,"y":985,"g":"S"},{"x":995,"y":1052,"g":"S"},{"x":830,"y":1158,"g":"S"},{"x":935,"y":965,"g":"S"},{"x":960,"y":910,"g":"S"},{"x":985,"y":945,"g":"S"},{"x":870,"y":930,"g":"S"},{"x":860,"y":890,"g":"S"},{"x":880,"y":860,"g":"S"},{"x":905,"y":835,"g":"S"},{"x":935,"y":840,"g":"S"},{"x":880,"y":808,"g":"S"},{"x":995,"y":810,"g":"S"},{"x":880,"y":755,"g":"S"},{"x":895,"y":715,"g":"S"},{"x":915,"y":660,"g":"S"},{"x":985,"y":638,"g":"S"},{"x":955,"y":552,"g":"S"},{"x":885,"y":570,"g":"S"},{"x":905,"y":580,"g":"S"},{"x":930,"y":600,"g":"S"},{"x":930,"y":625,"g":"S"},{"x":960,"y":630,"g":"S"},{"x":945,"y":580,"g":"S"},{"x":1100,"y":720,"g":"S"},{"x":900,"y":600,"g":"S"},{"x":890,"y":590,"g":"S"},{"x":950,"y":600,"g":"S"},{"x":965,"y":650,"g":"S"},{"x":870,"y":770,"g":"S"},{"x":900,"y":750,"g":"S"},{"x":860,"y":800,"g":"S"},{"x":900,"y":800,"g":"S"},{"x":880,"y":835,"g":"S"},{"x":850,"y":870,"g":"S"},
{"x":985,"y":520,"g":"T"},{"x":920,"y":468,"g":"T"},{"x":945,"y":685,"g":"T"},{"x":957,"y":745,"g":"T"},{"x":953,"y":802,"g":"T"},{"x":1005,"y":855,"g":"T"},{"x":1030,"y":865,"g":"T"},
{"x":1040,"y":555,"g":"T"},{"x":1080,"y":545,"g":"T"},{"x":1115,"y":550,"g":"T"},{"x":1160,"y":550,"g":"T"},{"x":1035,"y":585,"g":"T"},{"x":1075,"y":590,"g":"T"},{"x":1115,"y":585,"g":"T"},{"x":1150,"y":580,"g":"T"},{"x":1185,"y":595,"g":"T"},{"x":1035,"y":625,"g":"T"},{"x":1075,"y":630,"g":"T"},{"x":1120,"y":625,"g":"T"},{"x":1170,"y":625,"g":"T"},{"x":1205,"y":640,"g":"T"},{"x":1035,"y":670,"g":"T"},{"x":1075,"y":670,"g":"T"},{"x":1120,"y":665,"g":"T"},{"x":1175,"y":665,"g":"T"},{"x":1215,"y":670,"g":"T"},{"x":1050,"y":700,"g":"T"},{"x":1130,"y":715,"g":"T"},{"x":1200,"y":695,"g":"T"},{"x":1130,"y":750,"g":"T"},{"x":1180,"y":770,"g":"T"},{"x":1130,"y":810,"g":"T"},{"x":1185,"y":810,"g":"T"},{"x":1140,"y":850,"g":"T"},{"x":1185,"y":850,"g":"T"},{"x":1215,"y":810,"g":"T"},{"x":1230,"y":700,"g":"T"},{"x":1000,"y":580,"g":"T"},{"x":1000,"y":620,"g":"T"},{"x":1010,"y":680,"g":"T"},
{"x":1060,"y":540,"g":"T"},{"x":1100,"y":540,"g":"T"},{"x":1135,"y":540,"g":"T"},{"x":1020,"y":565,"g":"T"},{"x":1060,"y":565,"g":"T"},{"x":1095,"y":565,"g":"T"},{"x":1140,"y":565,"g":"T"},{"x":1165,"y":570,"g":"T"},{"x":1050,"y":610,"g":"T"},{"x":1095,"y":610,"g":"T"},{"x":1150,"y":610,"g":"T"},{"x":1185,"y":615,"g":"T"},{"x":1015,"y":650,"g":"T"},{"x":1055,"y":650,"g":"T"},{"x":1095,"y":655,"g":"T"},{"x":1155,"y":640,"g":"T"},{"x":1195,"y":650,"g":"T"},{"x":1035,"y":695,"g":"T"},{"x":1070,"y":695,"g":"T"},{"x":1150,"y":695,"g":"T"},{"x":1210,"y":695,"g":"T"},{"x":1155,"y":725,"g":"T"},{"x":1180,"y":720,"g":"T"},{"x":1220,"y":725,"g":"T"},{"x":1160,"y":755,"g":"T"},{"x":1200,"y":750,"g":"T"},{"x":1225,"y":750,"g":"T"},{"x":1150,"y":785,"g":"T"},{"x":1205,"y":780,"g":"T"},{"x":1225,"y":780,"g":"T"},{"x":1160,"y":805,"g":"T"},{"x":1210,"y":805,"g":"T"},{"x":1150,"y":835,"g":"T"},{"x":1170,"y":838,"g":"T"},{"x":1195,"y":830,"g":"T"},
{"x":992,"y":500,"g":"S"},{"x":1132,"y":785,"g":"S"},{"x":985,"y":710,"g":"S"},{"x":1010,"y":715,"g":"S"}],
"f_s":[
{"k":"g","x":262,"y":475,"u":1052,"v":288},{"k":"g","x":262,"y":625,"u":1052,"v":438},{"k":"g","x":262,"y":775,"u":1052,"v":588},{"k":"g","x":1052,"y":288,"u":1282,"v":623},{"k":"g","x":1052,"y":438,"u":1282,"v":773},{"k":"g","x":1052,"y":588,"u":1282,"v":923},{"k":"g","x":520,"y":821,"u":520,"v":351},{"k":"g","x":800,"y":755,"u":800,"v":285},{"k":"g","x":374,"y":1053,"u":1167,"v":867},{"k":"g","x":525,"y":820,"u":751,"v":1163},{"k":"g","x":789,"y":757,"u":1017,"v":1101},
{"k":"d","x":330,"y":866,"u":330,"v":396},{"k":"d","x":400,"y":849,"u":400,"v":379},{"k":"d","x":470,"y":833,"u":470,"v":363},{"k":"d","x":540,"y":816,"u":540,"v":346},{"k":"d","x":610,"y":800,"u":610,"v":330},{"k":"d","x":680,"y":783,"u":680,"v":313},{"k":"d","x":750,"y":766,"u":750,"v":296},{"k":"d","x":820,"y":750,"u":820,"v":280},{"k":"d","x":890,"y":733,"u":890,"v":263},{"k":"d","x":960,"y":716,"u":960,"v":246},
{"k":"d","x":262,"y":480,"u":1052,"v":293},{"k":"d","x":262,"y":560,"u":1052,"v":373},{"k":"d","x":262,"y":640,"u":1052,"v":453},{"k":"d","x":262,"y":720,"u":1052,"v":533},{"k":"d","x":262,"y":800,"u":1052,"v":613},
{"k":"d","x":1100,"y":767,"u":1100,"v":297},{"k":"d","x":1150,"y":842,"u":1150,"v":372},{"k":"d","x":1200,"y":917,"u":1200,"v":447},{"k":"d","x":1245,"y":985,"u":1245,"v":515},
{"k":"d","x":1052,"y":300,"u":1282,"v":635},{"k":"d","x":1052,"y":380,"u":1282,"v":715},{"k":"d","x":1052,"y":460,"u":1282,"v":795},{"k":"d","x":1052,"y":540,"u":1282,"v":875},{"k":"d","x":1052,"y":620,"u":1282,"v":955},
{"k":"d","x":299,"y":939,"u":1090,"v":752},{"k":"d","x":336,"y":996,"u":1128,"v":810},{"k":"d","x":374,"y":1053,"u":1167,"v":867},{"k":"d","x":411,"y":1110,"u":1205,"v":925},{"k":"d","x":448,"y":1168,"u":1244,"v":982},{"k":"d","x":394,"y":851,"u":618,"v":1194},{"k":"d","x":525,"y":820,"u":751,"v":1163},{"k":"d","x":657,"y":788,"u":884,"v":1132},{"k":"d","x":789,"y":757,"u":1017,"v":1101},{"k":"d","x":920,"y":726,"u":1149,"v":1070},
{"k":"b","x":262,"y":412,"u":1052,"v":230},{"k":"b","x":1052,"y":230,"u":1282,"v":565},{"k":"b","x":1282,"y":565,"u":1282,"v":1040},{"k":"b","x":1282,"y":1040,"u":485,"v":1225},{"k":"b","x":485,"y":1225,"u":262,"v":882},{"k":"b","x":262,"y":882,"u":262,"v":412},{"k":"b","x":1052,"y":230,"u":1052,"v":695},{"k":"b","x":262,"y":882,"u":1052,"v":695},{"k":"b","x":1052,"y":695,"u":1282,"v":1040},{"k":"b","x":247,"y":480,"u":262,"v":480},{"k":"b","x":247,"y":625,"u":262,"v":625},{"k":"b","x":247,"y":778,"u":262,"v":778},{"k":"b","x":283,"y":942,"u":299,"v":939},{"k":"b","x":332,"y":1015,"u":348,"v":1012},{"k":"b","x":378,"y":1092,"u":394,"v":1089},{"k":"b","x":428,"y":1165,"u":444,"v":1162},{"k":"b","x":558,"y":1220,"u":556,"v":1208},{"k":"b","x":755,"y":1175,"u":753,"v":1162},{"k":"b","x":958,"y":1130,"u":956,"v":1115},{"k":"b","x":1158,"y":1082,"u":1156,"v":1068}],
"f_t":[{"k":"t","t":"5","x":215,"y":457},{"k":"t","t":"0","x":218,"y":608},{"k":"t","t":"-5","x":205,"y":765},{"k":"t","t":"-15","x":215,"y":990},{"k":"t","t":"-10","x":265,"y":1060},{"k":"t","t":"-5","x":325,"y":1135},{"k":"t","t":"0","x":388,"y":1212},{"k":"t","t":"×10⁻³","x":45,"y":1135},{"k":"t","t":"0.02","x":625,"y":1280},{"k":"t","t":"0.01","x":825,"y":1232},{"k":"t","t":"0","x":985,"y":1187},{"k":"t","t":"-0.01","x":1232,"y":1138},{"k":"l","t":"PC 1 (31.77%)","x":1205,"y":1248},{"k":"l","t":"PC 2 (11.11%)","x":660,"y":1445},{"k":"t","t":"×10⁻³","x":165,"y":310},{"k":"r","t":"PC 3 (7.46%)","x":110,"y":650},{"k":"c","t":"F","x":125,"y":136}],
"f_b":[{"x":40,"y":50,"u":230,"v":220}],
"f_p":[
{"x":705,"y":487,"g":"S"},{"x":600,"y":582,"g":"S"},{"x":960,"y":522,"g":"S"},{"x":1092,"y":512,"g":"S"},{"x":1110,"y":565,"g":"S"},{"x":1055,"y":603,"g":"S"},{"x":1105,"y":610,"g":"S"},{"x":1140,"y":610,"g":"S"},{"x":1090,"y":550,"g":"S"},{"x":825,"y":600,"g":"S"},{"x":860,"y":622,"g":"S"},{"x":972,"y":600,"g":"S"},{"x":935,"y":633,"g":"S"},{"x":988,"y":680,"g":"S"},{"x":1075,"y":683,"g":"S"},{"x":1133,"y":757,"g":"S"},{"x":710,"y":675,"g":"S"},{"x":557,"y":707,"g":"S"},{"x":452,"y":737,"g":"S"},{"x":507,"y":742,"g":"S"},{"x":660,"y":715,"g":"S"},{"x":765,"y":685,"g":"S"},{"x":785,"y":680,"g":"S"},{"x":775,"y":710,"g":"S"},{"x":810,"y":725,"g":"S"},{"x":870,"y":705,"g":"S"},{"x":935,"y":712,"g":"S"},{"x":640,"y":755,"g":"S"},{"x":685,"y":750,"g":"S"},{"x":725,"y":770,"g":"S"},{"x":615,"y":795,"g":"S"},{"x":635,"y":830,"g":"S"},{"x":680,"y":805,"g":"S"},{"x":730,"y":795,"g":"S"},{"x":655,"y":780,"g":"S"},{"x":810,"y":780,"g":"S"},{"x":630,"y":740,"g":"S"},{"x":660,"y":750,"g":"S"},{"x":640,"y":790,"g":"S"},{"x":665,"y":770,"g":"S"},{"x":700,"y":780,"g":"S"},{"x":700,"y":810,"g":"S"},{"x":620,"y":770,"g":"S"},{"x":790,"y":700,"g":"S"},{"x":840,"y":720,"g":"S"},{"x":810,"y":760,"g":"S"},{"x":800,"y":800,"g":"S"},{"x":905,"y":710,"g":"S"},
{"x":758,"y":938,"g":"R"},{"x":783,"y":880,"g":"R"},{"x":818,"y":772,"g":"R"},{"x":870,"y":735,"g":"R"},{"x":835,"y":930,"g":"R"},{"x":820,"y":845,"g":"R"},{"x":880,"y":925,"g":"R"},{"x":915,"y":750,"g":"R"},{"x":950,"y":755,"g":"R"},{"x":985,"y":755,"g":"R"},{"x":1020,"y":758,"g":"R"},{"x":1050,"y":760,"g":"R"},{"x":860,"y":785,"g":"R"},{"x":900,"y":785,"g":"R"},{"x":940,"y":785,"g":"R"},{"x":980,"y":785,"g":"R"},{"x":1020,"y":785,"g":"R"},{"x":1045,"y":785,"g":"R"},{"x":855,"y":815,"g":"R"},{"x":895,"y":815,"g":"R"},{"x":930,"y":815,"g":"R"},{"x":970,"y":815,"g":"R"},{"x":1005,"y":815,"g":"R"},{"x":1035,"y":815,"g":"R"},{"x":870,"y":850,"g":"R"},{"x":905,"y":850,"g":"R"},{"x":945,"y":850,"g":"R"},{"x":985,"y":850,"g":"R"},{"x":1015,"y":850,"g":"R"},{"x":850,"y":880,"g":"R"},{"x":890,"y":880,"g":"R"},{"x":930,"y":880,"g":"R"},{"x":965,"y":880,"g":"R"},{"x":1000,"y":880,"g":"R"},{"x":910,"y":910,"g":"R"},{"x":950,"y":910,"g":"R"},{"x":985,"y":910,"g":"R"},
{"x":885,"y":760,"g":"R"},{"x":930,"y":760,"g":"R"},{"x":965,"y":770,"g":"R"},{"x":1005,"y":770,"g":"R"},{"x":1040,"y":770,"g":"R"},{"x":880,"y":800,"g":"R"},{"x":920,"y":800,"g":"R"},{"x":960,"y":800,"g":"R"},{"x":1000,"y":800,"g":"R"},{"x":1030,"y":800,"g":"R"},{"x":875,"y":830,"g":"R"},{"x":915,"y":830,"g":"R"},{"x":950,"y":830,"g":"R"},{"x":990,"y":830,"g":"R"},{"x":1025,"y":830,"g":"R"},{"x":830,"y":860,"g":"R"},{"x":890,"y":865,"g":"R"},{"x":925,"y":865,"g":"R"},{"x":965,"y":865,"g":"R"},{"x":1000,"y":865,"g":"R"},{"x":800,"y":890,"g":"R"},{"x":870,"y":895,"g":"R"},{"x":910,"y":895,"g":"R"},{"x":950,"y":895,"g":"R"},{"x":990,"y":895,"g":"R"},{"x":855,"y":915,"g":"R"},{"x":790,"y":850,"g":"R"},{"x":850,"y":940,"g":"R"},{"x":890,"y":945,"g":"R"},{"x":930,"y":930,"g":"R"},{"x":970,"y":925,"g":"R"},{"x":840,"y":810,"g":"R"},{"x":1010,"y":905,"g":"R"}],
"b_l":[
{"s":"a","w":381.8,"v":-0.048},{"s":"a","w":385,"v":0.03},{"s":"a","w":386.7,"v":-0.026},{"s":"a","w":389,"v":-0.033},{"s":"a","w":392.7,"v":-0.026},{"s":"a","w":395.6,"v":-0.076},{"s":"a","w":398.8,"v":-0.037},{"s":"a","w":401.7,"v":-0.057},{"s":"a","w":404.9,"v":0},{"s":"a","w":407.8,"v":0.026},{"s":"a","w":411,"v":0.022},{"s":"a","w":414.6,"v":0.063},{"s":"a","w":418.2,"v":0.093},{"s":"a","w":421,"v":0.144},{"s":"a","w":424.3,"v":0.089},{"s":"a","w":427.9,"v":0.026},{"s":"a","w":431.6,"v":-0.015},{"s":"a","w":434.5,"v":0.026},{"s":"a","w":437.6,"v":-0.019},{"s":"a","w":443.2,"v":-0.063},{"s":"a","w":447.3,"v":-0.026},{"s":"a","w":450.2,"v":0.015},
{"s":"c","w":513.6,"v":0.004},{"s":"c","w":515.3,"v":-0.03},{"s":"c","w":520.1,"v":-0.048},{"s":"c","w":525,"v":-0.011},{"s":"c","w":528.6,"v":-0.002},{"s":"c","w":532.3,"v":-0.002},{"s":"c","w":535.9,"v":0.03},{"s":"c","w":539.6,"v":0.085},{"s":"c","w":542.7,"v":0.089},{"s":"c","w":546.8,"v":0.033},{"s":"c","w":551.7,"v":-0.03},{"s":"c","w":556.5,"v":-0.022},{"s":"c","w":561.4,"v":-0.052},{"s":"c","w":565.5,"v":-0.076},{"s":"c","w":568.7,"v":-0.041},{"s":"c","w":572.3,"v":0.07},{"s":"c","w":575.5,"v":0.181},{"s":"c","w":579.1,"v":0.185},{"s":"c","w":583.2,"v":0.063},{"s":"c","w":588.8,"v":-0.089},{"s":"c","w":592.9,"v":-0.052},{"s":"c","w":596.6,"v":-0.022},{"s":"c","w":599.5,"v":-0.017}],
"b_m":[{"s":"m1","w":447.3,"v":0.024},{"s":"m1","w":460.2,"v":-0.032},{"s":"m2","w":502.4,"v":0.052},{"s":"m2","w":516.5,"v":-0.015}],
"b_z":[{"s":"z1","w":381,"v":0},{"s":"z1","w":450,"v":0},{"s":"z2","w":515,"v":0},{"s":"z2","w":600,"v":0}],
"b_t":[{"t":"420","w":418.2,"v":0.164,"c":"k"},{"t":"577","w":579.6,"v":0.211,"c":"k"},{"t":"543","w":537.6,"v":0.113,"c":"k"},{"t":"395","w":444.9,"v":-0.089,"c":"r"},{"t":"563","w":557.8,"v":-0.104,"c":"r"},{"t":"590","w":598.3,"v":-0.111,"c":"r"}],
"c_l":[
{"s":"a","w":383.5,"v":-0.044},{"s":"a","w":385.9,"v":-0.005},{"s":"a","w":388.4,"v":-0.01},{"s":"a","w":391.4,"v":-0.002},{"s":"a","w":394.1,"v":-0.027},{"s":"a","w":396.5,"v":-0.03},{"s":"a","w":398.8,"v":-0.073},{"s":"a","w":402,"v":-0.007},{"s":"a","w":405.7,"v":0.015},{"s":"a","w":408.6,"v":0.032},{"s":"a","w":411.9,"v":0.078},{"s":"a","w":415.6,"v":0.129},{"s":"a","w":418,"v":0.123},{"s":"a","w":421.7,"v":0.055},{"s":"a","w":426.7,"v":-0.019},{"s":"a","w":430.4,"v":-0.081},{"s":"a","w":434.6,"v":-0.087},{"s":"a","w":438.5,"v":-0.039},{"s":"a","w":442.7,"v":-0.027},{"s":"a","w":447.7,"v":0.004},
{"s":"c","w":520.5,"v":-0.002},{"s":"c","w":524.2,"v":0.044},{"s":"c","w":527.9,"v":0.044},{"s":"c","w":531.6,"v":-0.019},{"s":"c","w":535.3,"v":-0.061},{"s":"c","w":537.8,"v":-0.059},{"s":"c","w":543.2,"v":0.013},{"s":"c","w":546.4,"v":0.01},{"s":"c","w":550.1,"v":-0.024},{"s":"c","w":553.8,"v":-0.022},{"s":"c","w":558.8,"v":0.072},{"s":"c","w":561.2,"v":0.066},{"s":"c","w":567.4,"v":-0.03},{"s":"c","w":574.8,"v":-0.019},{"s":"c","w":580.2,"v":-0.041},{"s":"c","w":584.7,"v":0.001},{"s":"c","w":592.1,"v":0.018},{"s":"c","w":597.8,"v":0.047},{"s":"c","w":599.5,"v":0.047}],
"c_m":[{"s":"m1","w":439.5,"v":0.026},{"s":"m1","w":463.7,"v":-0.023},{"s":"m2","w":509.4,"v":0.015},{"s":"m2","w":528.6,"v":-0.026}],
"c_z":[{"s":"z1","w":381,"v":0},{"s":"z1","w":450,"v":0},{"s":"z2","w":515,"v":0},{"s":"z2","w":590,"v":0}],
"c_t":[{"t":"416","w":418.5,"v":0.15,"c":"k"},{"t":"560","w":555.8,"v":0.09,"c":"k"},{"t":"429","w":433.3,"v":-0.107,"c":"r"},{"t":"535","w":529.1,"v":-0.088,"c":"r"},{"t":"579","w":581.7,"v":-0.063,"c":"r"}],
"g":[{"a":"C","p":"C","n":24},{"a":"C","p":"R","n":0},{"a":"C","p":"S","n":2},{"a":"C","p":"T","n":0},{"a":"R","p":"C","n":0},{"a":"R","p":"R","n":54},{"a":"R","p":"S","n":0},{"a":"R","p":"T","n":1},{"a":"S","p":"C","n":0},{"a":"S","p":"R","n":0},{"a":"S","p":"S","n":55},{"a":"S","p":"T","n":0},{"a":"T","p":"C","n":0},{"a":"T","p":"R","n":0},{"a":"T","p":"S","n":0},{"a":"T","p":"T","n":59}],
"h":[{"a":"R","p":"R","n":139},{"a":"R","p":"S","n":20},{"a":"S","p":"R","n":2},{"a":"S","p":"S","n":137}],
"i":[{"a":"R","p":"R","n":155},{"a":"R","p":"T","n":4},{"a":"T","p":"R","n":2},{"a":"T","p":"T","n":167}],
"j":[{"a":"S","p":"S","n":159},{"a":"S","p":"T","n":0},{"a":"T","p":"S","n":1},{"a":"T","p":"T","n":168}]
},
"align":"none","spacing":0,"resolve":{"scale":{"color":"independent"},"legend":{"color":"independent"}},
"hconcat":[
{"vconcat":[
 {"hconcat":[
  {"width":866,"height":1020,"encoding":{"x":{"field":"x","type":"quantitative","scale":{"domain":[0,1543],"nice":false,"zero":false},"axis":null},"y":{"field":"y","type":"quantitative","scale":{"domain":[1604,-214],"nice":false,"zero":false},"axis":null}},
  "layer":[
   {"data":{"name":"a_s"},"transform":[{"filter":"datum.k=='g'"}],"mark":{"type":"rule","color":"#dddddd","strokeWidth":3},"encoding":{"x2":{"field":"u"},"y2":{"field":"v"}}},
   {"data":{"name":"a_s"},"transform":[{"filter":"datum.k=='d'"}],"mark":{"type":"rule","color":"#b8b8b8","strokeWidth":3,"strokeDash":[3,8]},"encoding":{"x2":{"field":"u"},"y2":{"field":"v"}}},
   {"data":{"name":"a_s"},"transform":[{"filter":"datum.k=='b'"}],"mark":{"type":"rule","color":"black","strokeWidth":4},"encoding":{"x2":{"field":"u"},"y2":{"field":"v"}}},
   {"data":{"name":"a_p"},"mark":{"type":"circle","size":380,"opacity":1,"stroke":"#3a3a1a","strokeWidth":1.5},"encoding":{"color":{"field":"g","type":"nominal","scale":{"domain":["U","R","T","S"],"range":["#179a17","#e8a33a","#e616d8","#e5120d"]},"legend":{"orient":"none","legendX":174,"legendY":588,"title":null,"padding":28,"fillColor":"white","labelFont":"Liberation Serif","labelFontSize":22,"labelColor":"#222","symbolType":"circle","symbolSize":300,"symbolStrokeColor":"#333","symbolStrokeWidth":1.5,"symbolOpacity":1,"rowPadding":8,"labelOffset":38,"labelExpr":"{'U':'Uninfected','R':'Rings','T':'Throphozoites','S':'Schizonts'}[datum.label]"}}}},
   {"data":{"name":"a_e"},"mark":{"type":"line","color":"black","strokeWidth":3,"interpolate":"cardinal-closed"},"encoding":{"detail":{"field":"e"},"order":{"field":"i","type":"quantitative"}}},
   {"data":{"name":"a_b"},"mark":{"type":"rect","color":"black"},"encoding":{"x2":{"field":"u"},"y2":{"field":"v"}}},
   {"data":{"name":"a_t"},"transform":[{"filter":"datum.k=='t'"}],"mark":{"type":"text","font":"Liberation Serif","fontSize":23,"color":"#222"},"encoding":{"text":{"field":"t"}}},
   {"data":{"name":"a_t"},"transform":[{"filter":"datum.k=='l'"}],"mark":{"type":"text","font":"Liberation Serif","fontSize":23,"fontWeight":"bold","color":"#222"},"encoding":{"text":{"field":"t"}}},
   {"data":{"name":"a_t"},"transform":[{"filter":"datum.k=='r'"}],"mark":{"type":"text","font":"Liberation Serif","fontSize":23,"fontWeight":"bold","color":"#222","angle":270},"encoding":{"text":{"field":"t"}}},
   {"data":{"name":"a_t"},"transform":[{"filter":"datum.k=='c'"}],"mark":{"type":"text","font":"Liberation Serif","fontSize":48,"color":"white"},"encoding":{"text":{"field":"t"}}}
  ]},
  {"align":"none","spacing":-16,"vconcat":[
   {"width":1,"height":123,"data":{"values":[]},"mark":"point","encoding":{}},
   {"width":302,"height":268,"encoding":{"x":{"field":"w","type":"quantitative","scale":{"domain":[381,601],"nice":false,"zero":false},"axis":{"values":[400,500,600],"title":"Wavelength (nm)","grid":false,"domainColor":"black","domainWidth":4,"tickColor":"black","tickWidth":3,"tickSize":6,"labelFont":"Liberation Serif","labelFontSize":24,"labelColor":"#222","labelPadding":13,"labelAngle":0,"titleFont":"Liberation Serif","titleFontSize":26,"titleFontWeight":"bold","titleColor":"#222","titlePadding":16}},"y":{"field":"v","type":"quantitative","scale":{"domain":[-0.15,0.2],"nice":false,"zero":false},"axis":{"values":[-0.1,0,0.1,0.2],"labelExpr":"''+datum.value","title":"PC 1 (36.74%)","grid":false,"domainColor":"black","domainWidth":4,"tickColor":"black","tickWidth":3,"tickSize":6,"labelFont":"Liberation Serif","labelFontSize":24,"labelColor":"#222","labelPadding":8,"titleFont":"Liberation Serif","titleFontSize":26,"titleFontWeight":"bold","titleColor":"#222","titlePadding":12}}},
    "layer":[
     {"data":{"name":"b_z"},"mark":{"type":"line","color":"#999999","strokeWidth":2,"strokeDash":[10,6]},"encoding":{"detail":{"field":"s"}}},
     {"data":{"name":"b_m"},"mark":{"type":"line","color":"#111","strokeWidth":2.5},"encoding":{"detail":{"field":"s"}}},
     {"data":{"name":"b_l"},"mark":{"type":"line","color":"#111","strokeWidth":4.5},"encoding":{"detail":{"field":"s"}}},
     {"data":{"values":[{"w":290.7,"u":341,"v":0.26,"z":0.1725}]},"mark":{"type":"rect","color":"black"},"encoding":{"x2":{"field":"u"},"y2":{"field":"z"}}},
     {"data":{"values":[{"t":"B","w":316,"v":0.216}]},"mark":{"type":"text","font":"Liberation Serif","fontSize":48,"color":"white"},"encoding":{"text":{"field":"t"}}},
     {"data":{"name":"b_t"},"mark":{"type":"text","font":"Liberation Serif","fontSize":24},"encoding":{"text":{"field":"t"},"color":{"condition":{"test":"datum.c=='r'","value":"#d8344a"},"value":"#222"}}}
    ]},
    {"width":297,"height":277,"encoding":{"x":{"field":"w","type":"quantitative","scale":{"domain":[381,601],"nice":false,"zero":false},"axis":{"values":[400,500,600],"title":"Wavelength (nm)","grid":false,"domainColor":"black","domainWidth":4,"tickColor":"black","tickWidth":3,"tickSize":6,"labelFont":"Liberation Serif","labelFontSize":24,"labelColor":"#222","labelPadding":13,"labelAngle":0,"titleFont":"Liberation Serif","titleFontSize":26,"titleFontWeight":"bold","titleColor":"#222","titlePadding":33}},"y":{"field":"v","type":"quantitative","scale":{"domain":[-0.129,0.154],"nice":false,"zero":false},"axis":{"values":[-0.1,-0.05,0,0.05,0.1],"labelExpr":"''+datum.value","title":"PC 2 (10.87%)","grid":false,"domainColor":"black","domainWidth":4,"tickColor":"black","tickWidth":3,"tickSize":6,"labelFont":"Liberation Serif","labelFontSize":24,"labelColor":"#222","labelPadding":8,"titleFont":"Liberation Serif","titleFontSize":26,"titleFontWeight":"bold","titleColor":"#222","titlePadding":12}}},
    "layer":[
     {"data":{"name":"c_z"},"mark":{"type":"line","color":"#555555","strokeWidth":2,"strokeDash":[10,6]},"encoding":{"detail":{"field":"s"}}},
     {"data":{"name":"c_m"},"mark":{"type":"line","color":"#111","strokeWidth":2.5},"encoding":{"detail":{"field":"s"}}},
     {"data":{"name":"c_l"},"mark":{"type":"line","color":"#111","strokeWidth":4.5},"encoding":{"detail":{"field":"s"}}},
     {"data":{"values":[{"w":305.4,"u":355,"v":0.22,"z":0.154}]},"mark":{"type":"rect","color":"black"},"encoding":{"x2":{"field":"u"},"y2":{"field":"z"}}},
     {"data":{"values":[{"t":"C","w":330,"v":0.187}]},"mark":{"type":"text","font":"Liberation Serif","fontSize":48,"color":"white"},"encoding":{"text":{"field":"t"}}},
     {"data":{"name":"c_t"},"mark":{"type":"text","font":"Liberation Serif","fontSize":24},"encoding":{"text":{"field":"t"},"color":{"condition":{"test":"datum.c=='r'","value":"#d8344a"},"value":"#222"}}}
    ]}
  ],"resolve":{"scale":{"color":"independent"},"legend":{"color":"independent"}}}
 ],"align":"none","spacing":-3,"resolve":{"scale":{"color":"independent"},"legend":{"color":"independent"}}},
 {"hconcat":[
  {"width":600,"height":600,"encoding":{"x":{"field":"x","type":"quantitative","scale":{"domain":[0,1680],"nice":false,"zero":false},"axis":null},"y":{"field":"y","type":"quantitative","scale":{"domain":[1568,0],"nice":false,"zero":false},"axis":null}},
  "layer":[
   {"data":{"name":"d_s"},"transform":[{"filter":"datum.k=='g'"}],"mark":{"type":"rule","color":"#dddddd","strokeWidth":3},"encoding":{"x2":{"field":"u"},"y2":{"field":"v"}}},
   {"data":{"name":"d_s"},"transform":[{"filter":"datum.k=='d'"}],"mark":{"type":"rule","color":"#aaaaaa","strokeWidth":3,"strokeDash":[3,8]},"encoding":{"x2":{"field":"u"},"y2":{"field":"v"}}},
   {"data":{"name":"d_s"},"transform":[{"filter":"datum.k=='b'"}],"mark":{"type":"rule","color":"black","strokeWidth":4},"encoding":{"x2":{"field":"u"},"y2":{"field":"v"}}},
   {"data":{"name":"d_p"},"mark":{"type":"circle","size":290,"opacity":1,"stroke":"#4a3a10","strokeWidth":1.5},"encoding":{"color":{"field":"g","type":"nominal","scale":{"domain":["R","T"],"range":["#e8a33a","#22e022"]},"legend":{"orient":"none","legendX":216,"legendY":35,"title":null,"padding":0,"labelFont":"Liberation Serif","labelFontSize":22,"labelColor":"#222","symbolType":"circle","symbolSize":300,"symbolStrokeColor":"#333","symbolStrokeWidth":1.5,"symbolOpacity":1,"rowPadding":8,"labelOffset":39,"labelExpr":"{'R':'Rings','T':'Trophozoite'}[datum.label]"}}}},
   {"data":{"name":"d_b"},"mark":{"type":"rect","color":"black"},"encoding":{"x2":{"field":"u"},"y2":{"field":"v"}}},
   {"data":{"name":"d_t"},"transform":[{"filter":"datum.k=='t'"}],"mark":{"type":"text","font":"Liberation Serif","fontSize":22,"color":"#222"},"encoding":{"text":{"field":"t"}}},
   {"data":{"name":"d_t"},"transform":[{"filter":"datum.k=='l'"}],"mark":{"type":"text","font":"Liberation Serif","fontSize":23,"fontWeight":"bold","color":"#222"},"encoding":{"text":{"field":"t"}}},
   {"data":{"name":"d_t"},"transform":[{"filter":"datum.k=='r'"}],"mark":{"type":"text","font":"Liberation Serif","fontSize":23,"fontWeight":"bold","color":"#222","angle":270},"encoding":{"text":{"field":"t"}}},
   {"data":{"name":"d_t"},"transform":[{"filter":"datum.k=='c'"}],"mark":{"type":"text","font":"Liberation Serif","fontSize":48,"color":"white"},"encoding":{"text":{"field":"t"}}}
  ]},
  {"width":525,"height":600,"encoding":{"x":{"field":"x","type":"quantitative","scale":{"domain":[56,1526],"nice":false,"zero":false},"axis":null},"y":{"field":"y","type":"quantitative","scale":{"domain":[1568,0],"nice":false,"zero":false},"axis":null}},
  "layer":[
   {"data":{"name":"e_s"},"transform":[{"filter":"datum.k=='g'"}],"mark":{"type":"rule","color":"#dddddd","strokeWidth":3},"encoding":{"x2":{"field":"u"},"y2":{"field":"v"}}},
   {"data":{"name":"e_s"},"transform":[{"filter":"datum.k=='d'"}],"mark":{"type":"rule","color":"#aaaaaa","strokeWidth":3,"strokeDash":[3,8]},"encoding":{"x2":{"field":"u"},"y2":{"field":"v"}}},
   {"data":{"name":"e_s"},"transform":[{"filter":"datum.k=='b'"}],"mark":{"type":"rule","color":"black","strokeWidth":4},"encoding":{"x2":{"field":"u"},"y2":{"field":"v"}}},
   {"data":{"name":"e_p"},"mark":{"type":"circle","size":290,"opacity":1,"stroke":"#1f5a10","strokeWidth":1.5},"encoding":{"color":{"field":"g","type":"nominal","scale":{"domain":["S","T"],"range":["#e5120d","#22e022"]},"legend":{"orient":"none","legendX":240,"legendY":46,"title":null,"padding":0,"labelFont":"Liberation Serif","labelFontSize":22,"labelColor":"#222","symbolType":"circle","symbolSize":300,"symbolStrokeColor":"#333","symbolStrokeWidth":1.5,"symbolOpacity":1,"rowPadding":8,"labelOffset":37,"labelExpr":"{'S':'Schizonts','T':'Trophozoites'}[datum.label]"}}}},
   {"data":{"name":"e_b"},"mark":{"type":"rect","color":"black"},"encoding":{"x2":{"field":"u"},"y2":{"field":"v"}}},
   {"data":{"name":"e_t"},"transform":[{"filter":"datum.k=='t'"}],"mark":{"type":"text","font":"Liberation Serif","fontSize":22,"color":"#222"},"encoding":{"text":{"field":"t"}}},
   {"data":{"name":"e_t"},"transform":[{"filter":"datum.k=='l'"}],"mark":{"type":"text","font":"Liberation Serif","fontSize":23,"fontWeight":"bold","color":"#222"},"encoding":{"text":{"field":"t"}}},
   {"data":{"name":"e_t"},"transform":[{"filter":"datum.k=='r'"}],"mark":{"type":"text","font":"Liberation Serif","fontSize":23,"fontWeight":"bold","color":"#222","angle":270},"encoding":{"text":{"field":"t"}}},
   {"data":{"name":"e_t"},"transform":[{"filter":"datum.k=='c'"}],"mark":{"type":"text","font":"Liberation Serif","fontSize":48,"color":"white"},"encoding":{"text":{"field":"t"}}}
  ]},
  {"width":554,"height":600,"encoding":{"x":{"field":"x","type":"quantitative","scale":{"domain":[-42,1509],"nice":false,"zero":false},"axis":null},"y":{"field":"y","type":"quantitative","scale":{"domain":[1568,0],"nice":false,"zero":false},"axis":null}},
  "layer":[
   {"data":{"name":"f_s"},"transform":[{"filter":"datum.k=='g'"}],"mark":{"type":"rule","color":"#dddddd","strokeWidth":3},"encoding":{"x2":{"field":"u"},"y2":{"field":"v"}}},
   {"data":{"name":"f_s"},"transform":[{"filter":"datum.k=='d'"}],"mark":{"type":"rule","color":"#b0b0b0","strokeWidth":3,"strokeDash":[3,8]},"encoding":{"x2":{"field":"u"},"y2":{"field":"v"}}},
   {"data":{"name":"f_s"},"transform":[{"filter":"datum.k=='b'"}],"mark":{"type":"rule","color":"black","strokeWidth":4},"encoding":{"x2":{"field":"u"},"y2":{"field":"v"}}},
   {"data":{"name":"f_p"},"mark":{"type":"circle","size":240,"opacity":1,"stroke":"#4a2a05","strokeWidth":1.5},"encoding":{"color":{"field":"g","type":"nominal","scale":{"domain":["R","S"],"range":["#e2ae2e","#e5120d"]},"legend":{"orient":"none","legendX":307,"legendY":19,"title":null,"padding":0,"labelFont":"Liberation Serif","labelFontSize":22,"labelColor":"#222","symbolType":"circle","symbolSize":300,"symbolStrokeColor":"#333","symbolStrokeWidth":1.5,"symbolOpacity":1,"rowPadding":8,"labelOffset":37,"labelExpr":"{'R':'Rings','S':'Schizonts'}[datum.label]"}}}},
   {"data":{"name":"f_b"},"mark":{"type":"rect","color":"black"},"encoding":{"x2":{"field":"u"},"y2":{"field":"v"}}},
   {"data":{"name":"f_t"},"transform":[{"filter":"datum.k=='t'"}],"mark":{"type":"text","font":"Liberation Serif","fontSize":22,"color":"#222"},"encoding":{"text":{"field":"t"}}},
   {"data":{"name":"f_t"},"transform":[{"filter":"datum.k=='l'"}],"mark":{"type":"text","font":"Liberation Serif","fontSize":23,"fontWeight":"bold","color":"#222"},"encoding":{"text":{"field":"t"}}},
   {"data":{"name":"f_t"},"transform":[{"filter":"datum.k=='r'"}],"mark":{"type":"text","font":"Liberation Serif","fontSize":23,"fontWeight":"bold","color":"#222","angle":270},"encoding":{"text":{"field":"t"}}},
   {"data":{"name":"f_t"},"transform":[{"filter":"datum.k=='c'"}],"mark":{"type":"text","font":"Liberation Serif","fontSize":48,"color":"white"},"encoding":{"text":{"field":"t"}}}
  ]}
 ],"align":"none","spacing":-30,"resolve":{"scale":{"color":"independent"},"legend":{"color":"independent"}}}
],"align":"none","spacing":0,"resolve":{"scale":{"color":"independent"},"legend":{"color":"independent"}}},
{"vconcat":[
 {"width":1356,"height":135,"data":{"values":[{"t":"C = control, R = Rings, T = Trophozoite, S= Schizonts","x":42.2,"y":50.4}]},"mark":{"type":"text","font":"Liberation Serif","fontSize":45.5,"color":"#111"},"encoding":{"x":{"field":"x","type":"quantitative","scale":{"domain":[0,100]},"axis":null},"y":{"field":"y","type":"quantitative","scale":{"domain":[100,0]},"axis":null},"text":{"field":"t"}}},
 {"hconcat":[
  {"width":20,"height":1360,"encoding":{"x":{"field":"x","type":"quantitative","scale":{"domain":[0,100]},"axis":null},"y":{"field":"y","type":"quantitative","scale":{"domain":[100,0]},"axis":null}},"layer":[
   {"data":{"values":[{"x":20,"y":2.43,"z":100}]},"mark":{"type":"rule","color":"black","strokeWidth":5},"encoding":{"y2":{"field":"z"}}},
   {"data":{"values":[{"x":20,"y":2.43}]},"mark":{"type":"point","shape":"triangle-up","filled":true,"color":"black","size":350,"opacity":1},"encoding":{}}
  ]},
  {"vconcat":[
   {"hconcat":[
    {"align":"none","spacing":0,"vconcat":[{"width":1,"height":10,"data":{"values":[]},"mark":"point","encoding":{}},
    {"width":517,"height":551,"data":{"name":"g"},"encoding":{"x":{"field":"p","type":"nominal","scale":{"domain":["C","R","S","T"],"paddingInner":0,"paddingOuter":0,"range":[6,517]},"axis":{"title":null,"domain":false,"ticks":false,"labelAngle":0,"labelFont":"DejaVu Sans","labelFontSize":22,"labelColor":"#444","labelPadding":27}},"y":{"field":"a","type":"nominal","scale":{"domain":["C","R","S","T"],"paddingInner":0,"paddingOuter":0},"axis":{"title":"G)","titleAngle":0,"titleX":-55,"titleY":7,"titleAlign":"left","titleBaseline":"middle","titleFont":"Liberation Serif","titleFontSize":42,"titleFontWeight":"bold","titleColor":"#111","domain":false,"ticks":false,"labelFont":"DejaVu Sans","labelFontSize":22,"labelColor":"#444","labelPadding":31}}},"layer":[{"mark":"rect","encoding":{"color":{"field":"n","type":"quantitative","scale":{"domain":[0,7.4,14.8,22.1,29.5,36.9,44.3,51.6,59],"range":["#f7fbff","#deebf7","#c6dbef","#9ecae1","#6baed6","#4292c6","#2171b5","#08519c","#08306b"]},"legend":null}}},{"mark":{"type":"text","font":"DejaVu Sans","fontSize":22},"encoding":{"text":{"field":"n"},"color":{"condition":{"test":"datum.n>30","value":"#cfe3f5"},"value":"#2c4a68"}}}]}
    ],"resolve":{"scale":{"color":"independent"},"legend":{"color":"independent"}}},
    {"align":"none","spacing":0,"vconcat":[{"width":1,"height":7,"data":{"values":[]},"mark":"point","encoding":{}},
    {"width":480,"height":538,"data":{"name":"h"},"encoding":{"x":{"field":"p","type":"nominal","scale":{"domain":["R","S"],"paddingInner":0,"paddingOuter":0},"axis":{"title":null,"domain":false,"ticks":false,"labelAngle":0,"labelFont":"DejaVu Sans","labelFontSize":22,"labelColor":"#444","labelPadding":27}},"y":{"field":"a","type":"nominal","scale":{"domain":["R","S"],"paddingInner":0,"paddingOuter":0},"axis":{"title":"H)","titleAngle":0,"titleX":-56,"titleY":-15,"titleAlign":"left","titleBaseline":"middle","titleFont":"Liberation Serif","titleFontSize":42,"titleFontWeight":"bold","titleColor":"#111","domain":false,"ticks":false,"labelFont":"DejaVu Sans","labelFontSize":22,"labelColor":"#444","labelPadding":25}}},"layer":[{"mark":"rect","encoding":{"color":{"field":"n","type":"quantitative","scale":{"domain":[0,17.4,34.8,52.1,69.5,86.9,104.3,121.6,139],"range":["#f7fbff","#deebf7","#c6dbef","#9ecae1","#6baed6","#4292c6","#2171b5","#08519c","#08306b"]},"legend":null}}},{"mark":{"type":"text","font":"DejaVu Sans","fontSize":22},"encoding":{"text":{"field":"n"},"color":{"condition":{"test":"datum.n>30","value":"#cfe3f5"},"value":"#2c4a68"}}}]}
    ],"resolve":{"scale":{"color":"independent"},"legend":{"color":"independent"}}}
   ],"align":"none","spacing":150,"resolve":{"scale":{"color":"independent"},"legend":{"color":"independent"}}},
   {"hconcat":[
    {"width":514,"height":577,"data":{"name":"i"},"encoding":{"x":{"field":"p","type":"nominal","scale":{"domain":["R","T"],"paddingInner":0,"paddingOuter":0},"axis":{"title":null,"domain":false,"ticks":false,"labelAngle":0,"labelFont":"DejaVu Sans","labelFontSize":22,"labelColor":"#444","labelPadding":27}},"y":{"field":"a","type":"nominal","scale":{"domain":["R","T"],"paddingInner":0,"paddingOuter":0},"axis":{"title":"I)","titleAngle":0,"titleX":-61,"titleY":6,"titleAlign":"left","titleBaseline":"middle","titleFont":"Liberation Serif","titleFontSize":42,"titleFontWeight":"bold","titleColor":"#111","domain":false,"ticks":false,"labelFont":"DejaVu Sans","labelFontSize":22,"labelColor":"#444","labelPadding":25}}},"layer":[{"mark":"rect","encoding":{"color":{"field":"n","type":"quantitative","scale":{"domain":[0,20.9,41.8,62.6,83.5,104.4,125.3,146.1,167],"range":["#f7fbff","#deebf7","#c6dbef","#9ecae1","#6baed6","#4292c6","#2171b5","#08519c","#08306b"]},"legend":null}}},{"mark":{"type":"text","font":"DejaVu Sans","fontSize":22},"encoding":{"text":{"field":"n"},"color":{"condition":{"test":"datum.n>30","value":"#cfe3f5"},"value":"#2c4a68"}}}]},
    {"align":"none","spacing":0,"vconcat":[{"width":1,"height":11,"data":{"values":[]},"mark":"point","encoding":{}},
    {"width":480,"height":536,"data":{"name":"j"},"encoding":{"x":{"field":"p","type":"nominal","scale":{"domain":["S","T"],"paddingInner":0,"paddingOuter":0},"axis":{"title":null,"domain":false,"ticks":false,"labelAngle":0,"labelFont":"DejaVu Sans","labelFontSize":22,"labelColor":"#444","labelPadding":27}},"y":{"field":"a","type":"nominal","scale":{"domain":["S","T"],"paddingInner":0,"paddingOuter":0},"axis":{"title":"J)","titleAngle":0,"titleX":-65,"titleY":11,"titleAlign":"left","titleBaseline":"middle","titleFont":"Liberation Serif","titleFontSize":42,"titleFontWeight":"bold","titleColor":"#111","domain":false,"ticks":false,"labelFont":"DejaVu Sans","labelFontSize":22,"labelColor":"#444","labelPadding":25}}},"layer":[{"mark":"rect","encoding":{"color":{"field":"n","type":"quantitative","scale":{"domain":[0,21,42,63,84,105,126,147,168],"range":["#f7fbff","#deebf7","#c6dbef","#9ecae1","#6baed6","#4292c6","#2171b5","#08519c","#08306b"]},"legend":null}}},{"mark":{"type":"text","font":"DejaVu Sans","fontSize":22},"encoding":{"text":{"field":"n"},"color":{"condition":{"test":"datum.n>30","value":"#cfe3f5"},"value":"#2c4a68"}}}]}
    ],"resolve":{"scale":{"color":"independent"},"legend":{"color":"independent"}}}
   ],"align":"none","spacing":171,"resolve":{"scale":{"color":"independent"},"legend":{"color":"independent"}}}
  ],"align":"none","spacing":45,"resolve":{"scale":{"color":"independent"},"legend":{"color":"independent"}}}
 ],"align":"none","spacing":5,"resolve":{"scale":{"color":"independent"},"legend":{"color":"independent"}}},
 {"width":1356,"height":132,"encoding":{"x":{"field":"x","type":"quantitative","scale":{"domain":[0,100]},"axis":null},"y":{"field":"y","type":"quantitative","scale":{"domain":[100,0]},"axis":null}},"layer":[
  {"data":{"values":[{"x":0.295,"u":97.5,"y":10.6}]},"mark":{"type":"rule","color":"black","strokeWidth":5},"encoding":{"x2":{"field":"u"}}},
  {"data":{"values":[{"x":0.295,"y":0,"z":10.6}]},"mark":{"type":"rule","color":"black","strokeWidth":5},"encoding":{"y2":{"field":"z"}}},
  {"data":{"values":[{"x":97.5,"y":10.6}]},"mark":{"type":"point","shape":"triangle-right","filled":true,"color":"black","size":350,"opacity":1},"encoding":{}},
  {"data":{"values":[{"t":"Predicted class","x":54.6,"y":47}]},"mark":{"type":"text","font":"Liberation Serif","fontSize":49,"fontWeight":"bold","color":"#111"},"encoding":{"text":{"field":"t"}}}
 ]}
],"align":"none","spacing":0,"resolve":{"scale":{"color":"independent"},"legend":{"color":"independent"}}}
]}
